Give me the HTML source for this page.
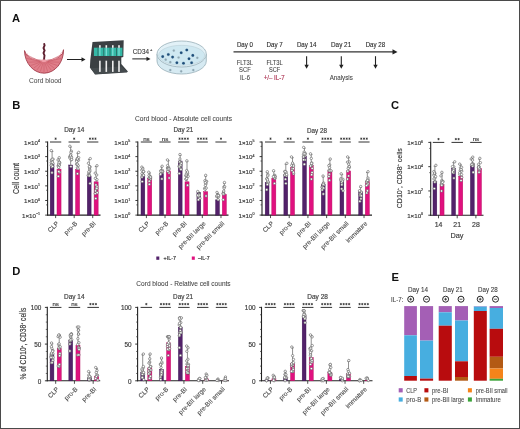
<!DOCTYPE html>
<html><head><meta charset="utf-8"><style>
html,body{margin:0;padding:0;background:#fff;}
svg{display:block;filter:blur(0.3px);font-family:"Liberation Sans", sans-serif;}
</style></head><body>
<svg width="520" height="429" viewBox="0 0 520 429">
<rect width="520" height="429" fill="#fff"/>
<rect x="0.5" y="0.5" width="519" height="428" fill="none" stroke="#4a4a4a" stroke-width="1"/>
<text x="12" y="22.3" font-size="11.2" fill="#111" font-weight="bold">A</text>
<text x="12.3" y="109.0" font-size="11.2" fill="#111" font-weight="bold">B</text>
<text x="391.0" y="109.4" font-size="11.2" fill="#111" font-weight="bold">C</text>
<text x="12.3" y="274.5" font-size="11.2" fill="#111" font-weight="bold">D</text>
<text x="391.6" y="280.8" font-size="11.2" fill="#111" font-weight="bold">E</text>
<path d="M24.5,50.6 A19.5,23 0 0 0 63.5,49.7 A19.5,10.5 0 0 1 24.5,50.6 Z" fill="#df7f8a" stroke="#a23a4a" stroke-width="0.9"/>
<path d="M26.5,53 A17.6,8.8 0 0 0 61.5,52.3" fill="none" stroke="#f2b0b8" stroke-width="0.9"/>
<line x1="40.0" y1="61.2" x2="25.7" y2="54.3" stroke="#c4505f" stroke-width="0.45"/>
<line x1="40.3" y1="61.5" x2="26.7" y2="58.4" stroke="#c4505f" stroke-width="0.45"/>
<line x1="40.6" y1="61.8" x2="28.3" y2="62.2" stroke="#c4505f" stroke-width="0.45"/>
<line x1="41.1" y1="62.0" x2="30.6" y2="65.5" stroke="#c4505f" stroke-width="0.45"/>
<line x1="41.7" y1="62.2" x2="33.5" y2="68.3" stroke="#c4505f" stroke-width="0.45"/>
<line x1="42.4" y1="62.4" x2="36.7" y2="70.3" stroke="#c4505f" stroke-width="0.45"/>
<line x1="43.2" y1="62.5" x2="40.3" y2="71.6" stroke="#c4505f" stroke-width="0.45"/>
<line x1="44.0" y1="62.5" x2="44.0" y2="72.0" stroke="#c4505f" stroke-width="0.45"/>
<line x1="44.8" y1="62.5" x2="47.7" y2="71.6" stroke="#c4505f" stroke-width="0.45"/>
<line x1="45.6" y1="62.4" x2="51.3" y2="70.3" stroke="#c4505f" stroke-width="0.45"/>
<line x1="46.3" y1="62.2" x2="54.5" y2="68.3" stroke="#c4505f" stroke-width="0.45"/>
<line x1="46.9" y1="62.0" x2="57.4" y2="65.5" stroke="#c4505f" stroke-width="0.45"/>
<line x1="47.4" y1="61.8" x2="59.7" y2="62.2" stroke="#c4505f" stroke-width="0.45"/>
<line x1="47.7" y1="61.5" x2="61.3" y2="58.4" stroke="#c4505f" stroke-width="0.45"/>
<line x1="48.0" y1="61.2" x2="62.3" y2="54.3" stroke="#c4505f" stroke-width="0.45"/>
<ellipse cx="44" cy="60.5" rx="2.4" ry="1.6" fill="#f0a0ab"/>
<path d="M44,43.2 L44.6,45.5 L43.5,48 L44.6,50.5 L43.5,53 L44.5,55.5 L44,59.5" fill="none" stroke="#5e2030" stroke-width="1.9"/>
<text x="45.3" y="82.8" font-size="7.2" fill="#505050" stroke="#505050" stroke-width="0.05" text-anchor="middle" textLength="32.5" lengthAdjust="spacingAndGlyphs">Cord blood</text>
<line x1="67" y1="59.5" x2="82.5" y2="59.5" stroke="#222" stroke-width="1"/>
<path d="M85.5,59.5 L81.5,57.3 L81.5,61.7 Z" fill="#222"/>
<polygon points="92.5,42 123.7,40.2 123.3,57 121.3,57.6 121.3,64 127.9,71.6 126.8,72.6 95,74.6 89.9,67.6 90.3,60" fill="#3b4043"/><polygon points="90.5,68.2 121.5,66.5 127.5,71.8 95.5,74.2" fill="#454b4e"/>
<rect x="93.90" y="47.70" width="28.50" height="8.30" fill="#35b8a6"/>
<rect x="97.50" y="47.70" width="0.90" height="8.30" fill="#2a6e68"/>
<rect x="103.30" y="47.70" width="0.90" height="8.30" fill="#2a6e68"/>
<rect x="109.60" y="47.70" width="0.90" height="8.30" fill="#2a6e68"/>
<rect x="116.00" y="47.70" width="0.90" height="8.30" fill="#2a6e68"/>
<rect x="99.10" y="45.20" width="1.60" height="2.60" fill="#f4f4f4"/>
<rect x="99.10" y="60.70" width="1.60" height="11.20" fill="#eeeeee"/>
<rect x="99.30" y="48.00" width="1.20" height="7.80" fill="#7fe0d8"/>
<rect x="105.50" y="45.20" width="1.60" height="2.60" fill="#f4f4f4"/>
<rect x="105.50" y="60.70" width="1.60" height="11.20" fill="#eeeeee"/>
<rect x="105.70" y="48.00" width="1.20" height="7.80" fill="#7fe0d8"/>
<rect x="112.00" y="45.20" width="1.60" height="2.60" fill="#f4f4f4"/>
<rect x="112.00" y="60.70" width="1.60" height="11.20" fill="#eeeeee"/>
<rect x="112.20" y="48.00" width="1.20" height="7.80" fill="#7fe0d8"/>
<rect x="118.20" y="45.20" width="1.60" height="2.60" fill="#f4f4f4"/>
<rect x="118.20" y="60.70" width="1.60" height="11.20" fill="#eeeeee"/>
<rect x="118.40" y="48.00" width="1.20" height="7.80" fill="#7fe0d8"/>
<text x="132.8" y="54.2" font-size="7.0" fill="#333" stroke="#333" stroke-width="0.1" textLength="16.2" lengthAdjust="spacingAndGlyphs">CD34</text>
<text x="150.0" y="50.6" font-size="4" fill="#404040" stroke="#404040" stroke-width="0.18">+</text>
<line x1="132.3" y1="58.9" x2="147.5" y2="58.9" stroke="#222" stroke-width="1"/>
<path d="M150.5,58.9 L146.5,56.699999999999996 L146.5,61.1 Z" fill="#222"/>
<path d="M157,54 L157,61 A24.65,13 0 0 0 206.3,61 L206.3,54" fill="#d6eaf2" stroke="#98aeb8" stroke-width="0.8"/>
<ellipse cx="181.65" cy="54" rx="24.65" ry="13" fill="#e2f1f7" stroke="#98aeb8" stroke-width="0.8"/>
<ellipse cx="181.65" cy="55.3" rx="23" ry="10" fill="#cfe8f1" stroke="#b4c8d0" stroke-width="0.5"/>
<circle cx="162.70" cy="56.60" r="1.3" fill="#1f4f7a" stroke="#1f4f7a" stroke-width="0.2"/>
<circle cx="168.30" cy="54.50" r="1.3" fill="#1f4f7a" stroke="#1f4f7a" stroke-width="0.2"/>
<circle cx="172.60" cy="57.10" r="1.3" fill="#1f4f7a" stroke="#1f4f7a" stroke-width="0.2"/>
<circle cx="181.20" cy="52.80" r="1.3" fill="#1f4f7a" stroke="#1f4f7a" stroke-width="0.2"/>
<circle cx="186.80" cy="50.00" r="1.3" fill="#1f4f7a" stroke="#1f4f7a" stroke-width="0.2"/>
<circle cx="192.80" cy="55.40" r="1.3" fill="#1f4f7a" stroke="#1f4f7a" stroke-width="0.2"/>
<circle cx="189.00" cy="58.70" r="1.3" fill="#1f4f7a" stroke="#1f4f7a" stroke-width="0.2"/>
<circle cx="176.90" cy="62.70" r="1.3" fill="#1f4f7a" stroke="#1f4f7a" stroke-width="0.2"/>
<circle cx="183.50" cy="63.20" r="1.3" fill="#1f4f7a" stroke="#1f4f7a" stroke-width="0.2"/>
<circle cx="191.60" cy="62.70" r="1.3" fill="#1f4f7a" stroke="#1f4f7a" stroke-width="0.2"/>
<circle cx="165.70" cy="59.70" r="1.1" fill="#8fa6b2" stroke="#8fa6b2" stroke-width="0.2"/>
<circle cx="170.30" cy="62.20" r="1.1" fill="#8fa6b2" stroke="#8fa6b2" stroke-width="0.2"/>
<circle cx="178.60" cy="57.50" r="1.1" fill="#8fa6b2" stroke="#8fa6b2" stroke-width="0.2"/>
<circle cx="197.30" cy="57.80" r="1.1" fill="#8fa6b2" stroke="#8fa6b2" stroke-width="0.2"/>
<circle cx="173.80" cy="50.60" r="1.1" fill="#8fa6b2" stroke="#8fa6b2" stroke-width="0.2"/>
<circle cx="170.30" cy="70.10" r="1.1" fill="#8fa6b2" stroke="#8fa6b2" stroke-width="0.2"/>
<circle cx="181.20" cy="71.30" r="1.1" fill="#8fa6b2" stroke="#8fa6b2" stroke-width="0.2"/>
<circle cx="193.30" cy="70.10" r="1.1" fill="#8fa6b2" stroke="#8fa6b2" stroke-width="0.2"/>
<text x="236.9" y="47.3" font-size="7.3" fill="#262626" stroke="#262626" stroke-width="0.1" textLength="16.1" lengthAdjust="spacingAndGlyphs">Day 0</text>
<text x="266.5" y="47.3" font-size="7.3" fill="#262626" stroke="#262626" stroke-width="0.1" textLength="16.3" lengthAdjust="spacingAndGlyphs">Day 7</text>
<text x="296.9" y="47.3" font-size="7.3" fill="#262626" stroke="#262626" stroke-width="0.1" textLength="19.6" lengthAdjust="spacingAndGlyphs">Day 14</text>
<text x="331" y="47.3" font-size="7.3" fill="#262626" stroke="#262626" stroke-width="0.1" textLength="20.2" lengthAdjust="spacingAndGlyphs">Day 21</text>
<text x="365.7" y="47.3" font-size="7.3" fill="#262626" stroke="#262626" stroke-width="0.1" textLength="19.4" lengthAdjust="spacingAndGlyphs">Day 28</text>
<line x1="233.5" y1="51.9" x2="394" y2="51.9" stroke="#333" stroke-width="1.3"/>
<path d="M397.5,51.9 L392.5,49.2 L392.5,54.6 Z" fill="#222"/>
<text x="244.9" y="65.0" font-size="7.0" fill="#444" stroke="#444" stroke-width="0.08" text-anchor="middle" textLength="16.4" lengthAdjust="spacingAndGlyphs">FLT3L</text>
<text x="244.9" y="72.0" font-size="7.0" fill="#444" stroke="#444" stroke-width="0.08" text-anchor="middle" textLength="11.6" lengthAdjust="spacingAndGlyphs">SCF</text>
<text x="244.9" y="79.9" font-size="7.0" fill="#444" stroke="#444" stroke-width="0.08" text-anchor="middle" textLength="10.0" lengthAdjust="spacingAndGlyphs">IL-6</text>
<text x="274.6" y="65.0" font-size="7.0" fill="#444" stroke="#444" stroke-width="0.08" text-anchor="middle" textLength="16.3" lengthAdjust="spacingAndGlyphs">FLT3L</text>
<text x="274.6" y="72.0" font-size="7.0" fill="#444" stroke="#444" stroke-width="0.08" text-anchor="middle" textLength="11.2" lengthAdjust="spacingAndGlyphs">SCF</text>
<text x="274.2" y="79.9" font-size="7.0" fill="#b03a58" stroke="#b03a58" stroke-width="0.18" text-anchor="middle" textLength="20.8" lengthAdjust="spacingAndGlyphs">+/– IL-7</text>
<line x1="306.6" y1="56.2" x2="306.6" y2="65.5" stroke="#222" stroke-width="1.1"/>
<path d="M306.6,68.8 L304.40000000000003,64.8 L308.8,64.8 Z" fill="#222"/>
<line x1="341.3" y1="56.2" x2="341.3" y2="65.5" stroke="#222" stroke-width="1.1"/>
<path d="M341.3,68.8 L339.1,64.8 L343.5,64.8 Z" fill="#222"/>
<line x1="375.5" y1="56.2" x2="375.5" y2="65.5" stroke="#222" stroke-width="1.1"/>
<path d="M375.5,68.8 L373.3,64.8 L377.7,64.8 Z" fill="#222"/>
<text x="341.2" y="80" font-size="7.0" fill="#444" stroke="#444" stroke-width="0.08" text-anchor="middle" textLength="23.1" lengthAdjust="spacingAndGlyphs">Analysis</text>
<text x="183.5" y="120.6" font-size="7.0" fill="#444" stroke="#444" stroke-width="0.06" text-anchor="middle" textLength="97" lengthAdjust="spacingAndGlyphs">Cord blood - Absolute cell counts</text>
<text x="74.3" y="132.2" font-size="6.6" fill="#404040" stroke="#404040" stroke-width="0.18" text-anchor="middle" textLength="20.2" lengthAdjust="spacingAndGlyphs">Day 14</text>
<text x="183.4" y="132.2" font-size="6.6" fill="#404040" stroke="#404040" stroke-width="0.18" text-anchor="middle" textLength="19.8" lengthAdjust="spacingAndGlyphs">Day 21</text>
<text x="317.0" y="132.8" font-size="6.6" fill="#404040" stroke="#404040" stroke-width="0.18" text-anchor="middle" textLength="19.9" lengthAdjust="spacingAndGlyphs">Day 28</text>
<text x="19.0" y="178.5" font-size="8.8" fill="#404040" stroke="#404040" stroke-width="0.18" text-anchor="middle" textLength="31" lengthAdjust="spacingAndGlyphs" transform="rotate(-90 19.0 178.5)">Cell count</text>
<line x1="47.6" y1="141.4" x2="47.6" y2="215.6" stroke="#222" stroke-width="1.1"/>
<line x1="47.1" y1="215.1" x2="100.5" y2="215.1" stroke="#222" stroke-width="1.1"/>
<line x1="45.2" y1="142.0" x2="47.6" y2="142.0" stroke="#222" stroke-width="0.9"/>
<text x="40.0" y="144.8" font-size="6.2" fill="#404040" stroke="#404040" stroke-width="0.18" text-anchor="end">1×10<tspan font-size="3.6" dy="-2.6">4</tspan></text>
<line x1="45.2" y1="156.62" x2="47.6" y2="156.62" stroke="#222" stroke-width="0.9"/>
<text x="40.0" y="159.42000000000002" font-size="6.2" fill="#404040" stroke="#404040" stroke-width="0.18" text-anchor="end">1×10<tspan font-size="3.6" dy="-2.6">3</tspan></text>
<line x1="45.2" y1="171.24" x2="47.6" y2="171.24" stroke="#222" stroke-width="0.9"/>
<text x="40.0" y="174.04000000000002" font-size="6.2" fill="#404040" stroke="#404040" stroke-width="0.18" text-anchor="end">1×10<tspan font-size="3.6" dy="-2.6">2</tspan></text>
<line x1="45.2" y1="185.86" x2="47.6" y2="185.86" stroke="#222" stroke-width="0.9"/>
<text x="40.0" y="188.66000000000003" font-size="6.2" fill="#404040" stroke="#404040" stroke-width="0.18" text-anchor="end">1×10<tspan font-size="3.6" dy="-2.6">1</tspan></text>
<line x1="45.2" y1="200.48" x2="47.6" y2="200.48" stroke="#222" stroke-width="0.9"/>
<text x="40.0" y="203.28" font-size="6.2" fill="#404040" stroke="#404040" stroke-width="0.18" text-anchor="end">1×10<tspan font-size="3.6" dy="-2.6">0</tspan></text>
<line x1="45.2" y1="215.1" x2="47.6" y2="215.1" stroke="#222" stroke-width="0.9"/>
<text x="40.0" y="217.9" font-size="6.2" fill="#404040" stroke="#404040" stroke-width="0.18" text-anchor="end">1×10<tspan font-size="3.6" dy="-2.6">−1</tspan></text>
<line x1="46.1" y1="146.4" x2="47.6" y2="146.4" stroke="#333" stroke-width="0.7"/>
<line x1="46.1" y1="161.02" x2="47.6" y2="161.02" stroke="#333" stroke-width="0.7"/>
<line x1="46.1" y1="175.64000000000001" x2="47.6" y2="175.64000000000001" stroke="#333" stroke-width="0.7"/>
<line x1="46.1" y1="190.26000000000002" x2="47.6" y2="190.26000000000002" stroke="#333" stroke-width="0.7"/>
<line x1="46.1" y1="204.88" x2="47.6" y2="204.88" stroke="#333" stroke-width="0.7"/>
<rect x="50.20" y="164.00" width="3.80" height="51.10" fill="#53226a" stroke="#3c1250" stroke-width="0.45"/>
<rect x="57.00" y="169.10" width="4.05" height="46.00" fill="#e0117f" stroke="#b80c60" stroke-width="0.45"/>
<line x1="52.1" y1="163.8" x2="52.1" y2="151.4" stroke="#444" stroke-width="0.6"/>
<line x1="50.800000000000004" y1="151.4" x2="53.4" y2="151.4" stroke="#444" stroke-width="0.6"/>
<circle cx="51.29" cy="150.60" r="1.2" fill="#fff" stroke="#5a5a5a" stroke-width="0.6"/>
<circle cx="52.00" cy="172.80" r="1.2" fill="#fff" stroke="#5a5a5a" stroke-width="0.6"/>
<circle cx="51.95" cy="166.94" r="1.2" fill="#fff" stroke="#5a5a5a" stroke-width="0.6"/>
<circle cx="52.00" cy="161.06" r="1.2" fill="#fff" stroke="#5a5a5a" stroke-width="0.6"/>
<circle cx="51.72" cy="164.87" r="1.2" fill="#fff" stroke="#5a5a5a" stroke-width="0.6"/>
<circle cx="51.36" cy="160.08" r="1.2" fill="#fff" stroke="#5a5a5a" stroke-width="0.6"/>
<circle cx="53.17" cy="159.20" r="1.2" fill="#fff" stroke="#5a5a5a" stroke-width="0.6"/>
<circle cx="53.02" cy="163.35" r="1.2" fill="#fff" stroke="#5a5a5a" stroke-width="0.6"/>
<circle cx="51.24" cy="162.64" r="1.2" fill="#fff" stroke="#5a5a5a" stroke-width="0.6"/>
<circle cx="52.25" cy="159.29" r="1.2" fill="#fff" stroke="#5a5a5a" stroke-width="0.6"/>
<circle cx="51.50" cy="165.01" r="1.2" fill="#fff" stroke="#5a5a5a" stroke-width="0.6"/>
<circle cx="51.24" cy="165.31" r="1.2" fill="#fff" stroke="#5a5a5a" stroke-width="0.6"/>
<circle cx="52.60" cy="166.37" r="1.2" fill="#fff" stroke="#5a5a5a" stroke-width="0.6"/>
<circle cx="52.31" cy="162.23" r="1.2" fill="#fff" stroke="#5a5a5a" stroke-width="0.6"/>
<line x1="59.025" y1="168.9" x2="59.025" y2="158.5" stroke="#444" stroke-width="0.6"/>
<line x1="57.725" y1="158.5" x2="60.324999999999996" y2="158.5" stroke="#444" stroke-width="0.6"/>
<circle cx="59.21" cy="157.70" r="1.2" fill="#fff" stroke="#5a5a5a" stroke-width="0.6"/>
<circle cx="58.32" cy="176.30" r="1.2" fill="#fff" stroke="#5a5a5a" stroke-width="0.6"/>
<circle cx="59.40" cy="172.31" r="1.2" fill="#fff" stroke="#5a5a5a" stroke-width="0.6"/>
<circle cx="59.47" cy="162.19" r="1.2" fill="#fff" stroke="#5a5a5a" stroke-width="0.6"/>
<circle cx="58.32" cy="165.47" r="1.2" fill="#fff" stroke="#5a5a5a" stroke-width="0.6"/>
<circle cx="58.96" cy="165.30" r="1.2" fill="#fff" stroke="#5a5a5a" stroke-width="0.6"/>
<circle cx="58.35" cy="166.18" r="1.2" fill="#fff" stroke="#5a5a5a" stroke-width="0.6"/>
<circle cx="59.77" cy="162.94" r="1.2" fill="#fff" stroke="#5a5a5a" stroke-width="0.6"/>
<circle cx="58.78" cy="171.51" r="1.2" fill="#fff" stroke="#5a5a5a" stroke-width="0.6"/>
<circle cx="59.41" cy="165.18" r="1.2" fill="#fff" stroke="#5a5a5a" stroke-width="0.6"/>
<circle cx="58.67" cy="163.94" r="1.2" fill="#fff" stroke="#5a5a5a" stroke-width="0.6"/>
<circle cx="59.17" cy="162.26" r="1.2" fill="#fff" stroke="#5a5a5a" stroke-width="0.6"/>
<circle cx="58.03" cy="159.99" r="1.2" fill="#fff" stroke="#5a5a5a" stroke-width="0.6"/>
<circle cx="58.71" cy="167.40" r="1.2" fill="#fff" stroke="#5a5a5a" stroke-width="0.6"/>
<line x1="55.625" y1="215.1" x2="55.625" y2="218.1" stroke="#222" stroke-width="0.8"/>
<text x="59.33" y="223.9" font-size="6.5" fill="#474747" stroke="#474747" stroke-width="0.1" text-anchor="end" transform="rotate(-45 59.33 223.9)">CLP</text>
<line x1="50.0" y1="142" x2="61.25" y2="142" stroke="#333" stroke-width="1.0"/>
<path d="M55.62,137.55V139.85M54.62,138.12L56.63,139.27M54.62,139.27L56.63,138.12" stroke="#222" stroke-width="0.62" fill="none"/>
<rect x="68.75" y="165.00" width="3.80" height="50.10" fill="#53226a" stroke="#3c1250" stroke-width="0.45"/>
<rect x="75.55" y="169.60" width="4.05" height="45.50" fill="#e0117f" stroke="#b80c60" stroke-width="0.45"/>
<line x1="70.64999999999999" y1="164.8" x2="70.64999999999999" y2="147.0" stroke="#444" stroke-width="0.6"/>
<line x1="69.35" y1="147.0" x2="71.94999999999999" y2="147.0" stroke="#444" stroke-width="0.6"/>
<circle cx="69.84" cy="146.20" r="1.2" fill="#fff" stroke="#5a5a5a" stroke-width="0.6"/>
<circle cx="70.92" cy="166.60" r="1.2" fill="#fff" stroke="#5a5a5a" stroke-width="0.6"/>
<circle cx="70.38" cy="156.33" r="1.2" fill="#fff" stroke="#5a5a5a" stroke-width="0.6"/>
<circle cx="70.72" cy="154.54" r="1.2" fill="#fff" stroke="#5a5a5a" stroke-width="0.6"/>
<circle cx="71.19" cy="159.93" r="1.2" fill="#fff" stroke="#5a5a5a" stroke-width="0.6"/>
<circle cx="71.36" cy="151.18" r="1.2" fill="#fff" stroke="#5a5a5a" stroke-width="0.6"/>
<circle cx="70.65" cy="158.04" r="1.2" fill="#fff" stroke="#5a5a5a" stroke-width="0.6"/>
<circle cx="70.93" cy="152.30" r="1.2" fill="#fff" stroke="#5a5a5a" stroke-width="0.6"/>
<circle cx="69.71" cy="156.72" r="1.2" fill="#fff" stroke="#5a5a5a" stroke-width="0.6"/>
<circle cx="71.22" cy="156.61" r="1.2" fill="#fff" stroke="#5a5a5a" stroke-width="0.6"/>
<circle cx="69.88" cy="158.01" r="1.2" fill="#fff" stroke="#5a5a5a" stroke-width="0.6"/>
<circle cx="70.50" cy="155.91" r="1.2" fill="#fff" stroke="#5a5a5a" stroke-width="0.6"/>
<circle cx="71.54" cy="157.54" r="1.2" fill="#fff" stroke="#5a5a5a" stroke-width="0.6"/>
<circle cx="71.68" cy="159.35" r="1.2" fill="#fff" stroke="#5a5a5a" stroke-width="0.6"/>
<line x1="77.57499999999999" y1="169.4" x2="77.57499999999999" y2="153.20000000000002" stroke="#444" stroke-width="0.6"/>
<line x1="76.27499999999999" y1="153.20000000000002" x2="78.87499999999999" y2="153.20000000000002" stroke="#444" stroke-width="0.6"/>
<circle cx="78.68" cy="152.40" r="1.2" fill="#fff" stroke="#5a5a5a" stroke-width="0.6"/>
<circle cx="77.47" cy="173.70" r="1.2" fill="#fff" stroke="#5a5a5a" stroke-width="0.6"/>
<circle cx="76.60" cy="164.25" r="1.2" fill="#fff" stroke="#5a5a5a" stroke-width="0.6"/>
<circle cx="78.47" cy="160.26" r="1.2" fill="#fff" stroke="#5a5a5a" stroke-width="0.6"/>
<circle cx="76.94" cy="160.02" r="1.2" fill="#fff" stroke="#5a5a5a" stroke-width="0.6"/>
<circle cx="76.67" cy="160.05" r="1.2" fill="#fff" stroke="#5a5a5a" stroke-width="0.6"/>
<circle cx="77.37" cy="158.32" r="1.2" fill="#fff" stroke="#5a5a5a" stroke-width="0.6"/>
<circle cx="78.23" cy="165.69" r="1.2" fill="#fff" stroke="#5a5a5a" stroke-width="0.6"/>
<circle cx="77.27" cy="164.10" r="1.2" fill="#fff" stroke="#5a5a5a" stroke-width="0.6"/>
<circle cx="77.52" cy="167.63" r="1.2" fill="#fff" stroke="#5a5a5a" stroke-width="0.6"/>
<circle cx="78.69" cy="157.71" r="1.2" fill="#fff" stroke="#5a5a5a" stroke-width="0.6"/>
<circle cx="78.05" cy="168.80" r="1.2" fill="#fff" stroke="#5a5a5a" stroke-width="0.6"/>
<circle cx="77.39" cy="158.96" r="1.2" fill="#fff" stroke="#5a5a5a" stroke-width="0.6"/>
<circle cx="76.65" cy="161.43" r="1.2" fill="#fff" stroke="#5a5a5a" stroke-width="0.6"/>
<line x1="74.175" y1="215.1" x2="74.175" y2="218.1" stroke="#222" stroke-width="0.8"/>
<text x="77.88" y="223.9" font-size="6.5" fill="#474747" stroke="#474747" stroke-width="0.1" text-anchor="end" transform="rotate(-45 77.88 223.9)">pro-B</text>
<line x1="68.55" y1="142" x2="79.8" y2="142" stroke="#333" stroke-width="1.0"/>
<path d="M74.17,137.55V139.85M73.17,138.12L75.18,139.27M73.17,139.27L75.18,138.12" stroke="#222" stroke-width="0.62" fill="none"/>
<rect x="87.30" y="176.20" width="3.80" height="38.90" fill="#53226a" stroke="#3c1250" stroke-width="0.45"/>
<rect x="94.10" y="181.80" width="4.05" height="33.30" fill="#e0117f" stroke="#b80c60" stroke-width="0.45"/>
<line x1="89.19999999999999" y1="176" x2="89.19999999999999" y2="159.4" stroke="#444" stroke-width="0.6"/>
<line x1="87.89999999999999" y1="159.4" x2="90.49999999999999" y2="159.4" stroke="#444" stroke-width="0.6"/>
<circle cx="90.26" cy="158.60" r="1.2" fill="#fff" stroke="#5a5a5a" stroke-width="0.6"/>
<circle cx="90.06" cy="183.40" r="1.2" fill="#fff" stroke="#5a5a5a" stroke-width="0.6"/>
<circle cx="89.69" cy="169.27" r="1.2" fill="#fff" stroke="#5a5a5a" stroke-width="0.6"/>
<circle cx="90.11" cy="166.79" r="1.2" fill="#fff" stroke="#5a5a5a" stroke-width="0.6"/>
<circle cx="89.53" cy="167.72" r="1.2" fill="#fff" stroke="#5a5a5a" stroke-width="0.6"/>
<circle cx="88.79" cy="173.77" r="1.2" fill="#fff" stroke="#5a5a5a" stroke-width="0.6"/>
<circle cx="89.12" cy="172.32" r="1.2" fill="#fff" stroke="#5a5a5a" stroke-width="0.6"/>
<circle cx="89.36" cy="166.65" r="1.2" fill="#fff" stroke="#5a5a5a" stroke-width="0.6"/>
<circle cx="89.95" cy="171.00" r="1.2" fill="#fff" stroke="#5a5a5a" stroke-width="0.6"/>
<circle cx="88.85" cy="171.75" r="1.2" fill="#fff" stroke="#5a5a5a" stroke-width="0.6"/>
<circle cx="88.14" cy="175.40" r="1.2" fill="#fff" stroke="#5a5a5a" stroke-width="0.6"/>
<circle cx="89.51" cy="175.30" r="1.2" fill="#fff" stroke="#5a5a5a" stroke-width="0.6"/>
<circle cx="89.25" cy="175.87" r="1.2" fill="#fff" stroke="#5a5a5a" stroke-width="0.6"/>
<circle cx="88.42" cy="163.26" r="1.2" fill="#fff" stroke="#5a5a5a" stroke-width="0.6"/>
<line x1="96.12499999999999" y1="181.6" x2="96.12499999999999" y2="166.5" stroke="#444" stroke-width="0.6"/>
<line x1="94.82499999999999" y1="166.5" x2="97.42499999999998" y2="166.5" stroke="#444" stroke-width="0.6"/>
<circle cx="96.99" cy="165.70" r="1.2" fill="#fff" stroke="#5a5a5a" stroke-width="0.6"/>
<circle cx="95.78" cy="198.50" r="1.2" fill="#fff" stroke="#5a5a5a" stroke-width="0.6"/>
<circle cx="96.74" cy="188.16" r="1.2" fill="#fff" stroke="#5a5a5a" stroke-width="0.6"/>
<circle cx="96.70" cy="174.96" r="1.2" fill="#fff" stroke="#5a5a5a" stroke-width="0.6"/>
<circle cx="95.36" cy="178.36" r="1.2" fill="#fff" stroke="#5a5a5a" stroke-width="0.6"/>
<circle cx="97.00" cy="179.66" r="1.2" fill="#fff" stroke="#5a5a5a" stroke-width="0.6"/>
<circle cx="96.38" cy="189.05" r="1.2" fill="#fff" stroke="#5a5a5a" stroke-width="0.6"/>
<circle cx="95.55" cy="190.87" r="1.2" fill="#fff" stroke="#5a5a5a" stroke-width="0.6"/>
<circle cx="95.24" cy="193.62" r="1.2" fill="#fff" stroke="#5a5a5a" stroke-width="0.6"/>
<circle cx="97.22" cy="192.69" r="1.2" fill="#fff" stroke="#5a5a5a" stroke-width="0.6"/>
<circle cx="96.20" cy="188.71" r="1.2" fill="#fff" stroke="#5a5a5a" stroke-width="0.6"/>
<circle cx="96.88" cy="186.38" r="1.2" fill="#fff" stroke="#5a5a5a" stroke-width="0.6"/>
<circle cx="96.80" cy="188.32" r="1.2" fill="#fff" stroke="#5a5a5a" stroke-width="0.6"/>
<circle cx="95.94" cy="184.88" r="1.2" fill="#fff" stroke="#5a5a5a" stroke-width="0.6"/>
<circle cx="95.23" cy="173.14" r="1.2" fill="#fff" stroke="#5a5a5a" stroke-width="0.6"/>
<line x1="92.725" y1="215.1" x2="92.725" y2="218.1" stroke="#222" stroke-width="0.8"/>
<text x="96.42" y="223.9" font-size="6.5" fill="#474747" stroke="#474747" stroke-width="0.1" text-anchor="end" transform="rotate(-45 96.42 223.9)">pre-BI</text>
<line x1="87.1" y1="142" x2="98.35" y2="142" stroke="#333" stroke-width="1.0"/>
<path d="M89.97,137.55V139.85M88.97,138.12L90.98,139.27M88.97,139.27L90.98,138.12" stroke="#222" stroke-width="0.62" fill="none"/>
<path d="M92.72,137.55V139.85M91.72,138.12L93.73,139.27M91.72,139.27L93.73,138.12" stroke="#222" stroke-width="0.62" fill="none"/>
<path d="M95.47,137.55V139.85M94.47,138.12L96.48,139.27M94.47,139.27L96.48,138.12" stroke="#222" stroke-width="0.62" fill="none"/>
<line x1="137.8" y1="141.4" x2="137.8" y2="215.6" stroke="#222" stroke-width="1.1"/>
<line x1="137.3" y1="215.1" x2="228.5" y2="215.1" stroke="#222" stroke-width="1.1"/>
<line x1="135.4" y1="142.0" x2="137.8" y2="142.0" stroke="#222" stroke-width="0.9"/>
<text x="130.20000000000002" y="144.8" font-size="6.2" fill="#404040" stroke="#404040" stroke-width="0.18" text-anchor="end">1×10<tspan font-size="3.6" dy="-2.6">5</tspan></text>
<line x1="135.4" y1="156.62" x2="137.8" y2="156.62" stroke="#222" stroke-width="0.9"/>
<text x="130.20000000000002" y="159.42000000000002" font-size="6.2" fill="#404040" stroke="#404040" stroke-width="0.18" text-anchor="end">1×10<tspan font-size="3.6" dy="-2.6">4</tspan></text>
<line x1="135.4" y1="171.24" x2="137.8" y2="171.24" stroke="#222" stroke-width="0.9"/>
<text x="130.20000000000002" y="174.04000000000002" font-size="6.2" fill="#404040" stroke="#404040" stroke-width="0.18" text-anchor="end">1×10<tspan font-size="3.6" dy="-2.6">3</tspan></text>
<line x1="135.4" y1="185.86" x2="137.8" y2="185.86" stroke="#222" stroke-width="0.9"/>
<text x="130.20000000000002" y="188.66000000000003" font-size="6.2" fill="#404040" stroke="#404040" stroke-width="0.18" text-anchor="end">1×10<tspan font-size="3.6" dy="-2.6">2</tspan></text>
<line x1="135.4" y1="200.48" x2="137.8" y2="200.48" stroke="#222" stroke-width="0.9"/>
<text x="130.20000000000002" y="203.28" font-size="6.2" fill="#404040" stroke="#404040" stroke-width="0.18" text-anchor="end">1×10<tspan font-size="3.6" dy="-2.6">1</tspan></text>
<line x1="135.4" y1="215.1" x2="137.8" y2="215.1" stroke="#222" stroke-width="0.9"/>
<text x="130.20000000000002" y="217.9" font-size="6.2" fill="#404040" stroke="#404040" stroke-width="0.18" text-anchor="end">1×10<tspan font-size="3.6" dy="-2.6">0</tspan></text>
<line x1="136.3" y1="146.4" x2="137.8" y2="146.4" stroke="#333" stroke-width="0.7"/>
<line x1="136.3" y1="161.02" x2="137.8" y2="161.02" stroke="#333" stroke-width="0.7"/>
<line x1="136.3" y1="175.64000000000001" x2="137.8" y2="175.64000000000001" stroke="#333" stroke-width="0.7"/>
<line x1="136.3" y1="190.26000000000002" x2="137.8" y2="190.26000000000002" stroke="#333" stroke-width="0.7"/>
<line x1="136.3" y1="204.88" x2="137.8" y2="204.88" stroke="#333" stroke-width="0.7"/>
<rect x="141.00" y="176.40" width="3.80" height="38.70" fill="#53226a" stroke="#3c1250" stroke-width="0.45"/>
<rect x="147.70" y="178.20" width="4.05" height="36.90" fill="#e0117f" stroke="#b80c60" stroke-width="0.45"/>
<line x1="142.9" y1="176.2" x2="142.9" y2="167.9" stroke="#444" stroke-width="0.6"/>
<line x1="141.6" y1="167.9" x2="144.20000000000002" y2="167.9" stroke="#444" stroke-width="0.6"/>
<circle cx="141.85" cy="167.10" r="1.2" fill="#fff" stroke="#5a5a5a" stroke-width="0.6"/>
<circle cx="142.22" cy="181.60" r="1.2" fill="#fff" stroke="#5a5a5a" stroke-width="0.6"/>
<circle cx="142.36" cy="175.37" r="1.2" fill="#fff" stroke="#5a5a5a" stroke-width="0.6"/>
<circle cx="141.79" cy="170.09" r="1.2" fill="#fff" stroke="#5a5a5a" stroke-width="0.6"/>
<circle cx="143.71" cy="171.60" r="1.2" fill="#fff" stroke="#5a5a5a" stroke-width="0.6"/>
<circle cx="141.98" cy="173.63" r="1.2" fill="#fff" stroke="#5a5a5a" stroke-width="0.6"/>
<circle cx="143.23" cy="174.87" r="1.2" fill="#fff" stroke="#5a5a5a" stroke-width="0.6"/>
<circle cx="142.88" cy="168.99" r="1.2" fill="#fff" stroke="#5a5a5a" stroke-width="0.6"/>
<circle cx="142.01" cy="177.08" r="1.2" fill="#fff" stroke="#5a5a5a" stroke-width="0.6"/>
<circle cx="143.58" cy="175.24" r="1.2" fill="#fff" stroke="#5a5a5a" stroke-width="0.6"/>
<circle cx="143.47" cy="171.57" r="1.2" fill="#fff" stroke="#5a5a5a" stroke-width="0.6"/>
<line x1="149.725" y1="178" x2="149.725" y2="173.0" stroke="#444" stroke-width="0.6"/>
<line x1="148.42499999999998" y1="173.0" x2="151.025" y2="173.0" stroke="#444" stroke-width="0.6"/>
<circle cx="148.73" cy="172.20" r="1.2" fill="#fff" stroke="#5a5a5a" stroke-width="0.6"/>
<circle cx="149.32" cy="184.30" r="1.2" fill="#fff" stroke="#5a5a5a" stroke-width="0.6"/>
<circle cx="150.17" cy="176.39" r="1.2" fill="#fff" stroke="#5a5a5a" stroke-width="0.6"/>
<circle cx="150.56" cy="178.95" r="1.2" fill="#fff" stroke="#5a5a5a" stroke-width="0.6"/>
<circle cx="149.67" cy="177.51" r="1.2" fill="#fff" stroke="#5a5a5a" stroke-width="0.6"/>
<circle cx="149.01" cy="178.03" r="1.2" fill="#fff" stroke="#5a5a5a" stroke-width="0.6"/>
<circle cx="148.99" cy="175.45" r="1.2" fill="#fff" stroke="#5a5a5a" stroke-width="0.6"/>
<circle cx="149.90" cy="178.04" r="1.2" fill="#fff" stroke="#5a5a5a" stroke-width="0.6"/>
<circle cx="149.81" cy="176.75" r="1.2" fill="#fff" stroke="#5a5a5a" stroke-width="0.6"/>
<circle cx="149.25" cy="181.17" r="1.2" fill="#fff" stroke="#5a5a5a" stroke-width="0.6"/>
<circle cx="150.63" cy="177.09" r="1.2" fill="#fff" stroke="#5a5a5a" stroke-width="0.6"/>
<line x1="146.375" y1="215.1" x2="146.375" y2="218.1" stroke="#222" stroke-width="0.8"/>
<text x="150.07" y="223.9" font-size="6.5" fill="#474747" stroke="#474747" stroke-width="0.1" text-anchor="end" transform="rotate(-45 150.07 223.9)">CLP</text>
<line x1="140.8" y1="142" x2="151.95" y2="142" stroke="#333" stroke-width="1.0"/>
<text x="146.375" y="140.7" font-size="6.1" fill="#404040" stroke="#404040" stroke-width="0.18" text-anchor="middle">ns</text>
<rect x="159.65" y="173.70" width="3.80" height="41.40" fill="#53226a" stroke="#3c1250" stroke-width="0.45"/>
<rect x="166.35" y="170.90" width="4.05" height="44.20" fill="#e0117f" stroke="#b80c60" stroke-width="0.45"/>
<line x1="161.55" y1="173.5" x2="161.55" y2="167.0" stroke="#444" stroke-width="0.6"/>
<line x1="160.25" y1="167.0" x2="162.85000000000002" y2="167.0" stroke="#444" stroke-width="0.6"/>
<circle cx="162.16" cy="166.20" r="1.2" fill="#fff" stroke="#5a5a5a" stroke-width="0.6"/>
<circle cx="161.88" cy="178.90" r="1.2" fill="#fff" stroke="#5a5a5a" stroke-width="0.6"/>
<circle cx="162.63" cy="171.64" r="1.2" fill="#fff" stroke="#5a5a5a" stroke-width="0.6"/>
<circle cx="161.61" cy="171.77" r="1.2" fill="#fff" stroke="#5a5a5a" stroke-width="0.6"/>
<circle cx="162.37" cy="171.73" r="1.2" fill="#fff" stroke="#5a5a5a" stroke-width="0.6"/>
<circle cx="160.70" cy="173.48" r="1.2" fill="#fff" stroke="#5a5a5a" stroke-width="0.6"/>
<circle cx="160.48" cy="174.19" r="1.2" fill="#fff" stroke="#5a5a5a" stroke-width="0.6"/>
<circle cx="162.38" cy="170.33" r="1.2" fill="#fff" stroke="#5a5a5a" stroke-width="0.6"/>
<circle cx="162.40" cy="171.34" r="1.2" fill="#fff" stroke="#5a5a5a" stroke-width="0.6"/>
<circle cx="160.81" cy="170.73" r="1.2" fill="#fff" stroke="#5a5a5a" stroke-width="0.6"/>
<circle cx="160.91" cy="171.14" r="1.2" fill="#fff" stroke="#5a5a5a" stroke-width="0.6"/>
<line x1="168.375" y1="170.7" x2="168.375" y2="160.70000000000002" stroke="#444" stroke-width="0.6"/>
<line x1="167.075" y1="160.70000000000002" x2="169.675" y2="160.70000000000002" stroke="#444" stroke-width="0.6"/>
<circle cx="167.43" cy="159.90" r="1.2" fill="#fff" stroke="#5a5a5a" stroke-width="0.6"/>
<circle cx="169.16" cy="178.00" r="1.2" fill="#fff" stroke="#5a5a5a" stroke-width="0.6"/>
<circle cx="168.59" cy="169.51" r="1.2" fill="#fff" stroke="#5a5a5a" stroke-width="0.6"/>
<circle cx="169.01" cy="172.95" r="1.2" fill="#fff" stroke="#5a5a5a" stroke-width="0.6"/>
<circle cx="167.50" cy="167.97" r="1.2" fill="#fff" stroke="#5a5a5a" stroke-width="0.6"/>
<circle cx="167.83" cy="171.36" r="1.2" fill="#fff" stroke="#5a5a5a" stroke-width="0.6"/>
<circle cx="167.91" cy="167.95" r="1.2" fill="#fff" stroke="#5a5a5a" stroke-width="0.6"/>
<circle cx="167.64" cy="165.50" r="1.2" fill="#fff" stroke="#5a5a5a" stroke-width="0.6"/>
<circle cx="168.60" cy="167.34" r="1.2" fill="#fff" stroke="#5a5a5a" stroke-width="0.6"/>
<circle cx="168.68" cy="168.45" r="1.2" fill="#fff" stroke="#5a5a5a" stroke-width="0.6"/>
<circle cx="168.00" cy="169.22" r="1.2" fill="#fff" stroke="#5a5a5a" stroke-width="0.6"/>
<circle cx="168.92" cy="168.94" r="1.2" fill="#fff" stroke="#5a5a5a" stroke-width="0.6"/>
<line x1="165.025" y1="215.1" x2="165.025" y2="218.1" stroke="#222" stroke-width="0.8"/>
<text x="168.72" y="223.9" font-size="6.5" fill="#474747" stroke="#474747" stroke-width="0.1" text-anchor="end" transform="rotate(-45 168.72 223.9)">pro-B</text>
<line x1="159.45000000000002" y1="142" x2="170.6" y2="142" stroke="#333" stroke-width="1.0"/>
<text x="165.025" y="140.7" font-size="6.1" fill="#404040" stroke="#404040" stroke-width="0.18" text-anchor="middle">ns</text>
<rect x="178.30" y="161.00" width="3.80" height="54.10" fill="#53226a" stroke="#3c1250" stroke-width="0.45"/>
<rect x="185.00" y="181.80" width="4.05" height="33.30" fill="#e0117f" stroke="#b80c60" stroke-width="0.45"/>
<line x1="180.20000000000002" y1="160.8" x2="180.20000000000002" y2="155.3" stroke="#444" stroke-width="0.6"/>
<line x1="178.9" y1="155.3" x2="181.50000000000003" y2="155.3" stroke="#444" stroke-width="0.6"/>
<circle cx="179.96" cy="154.50" r="1.2" fill="#fff" stroke="#5a5a5a" stroke-width="0.6"/>
<circle cx="179.25" cy="173.50" r="1.2" fill="#fff" stroke="#5a5a5a" stroke-width="0.6"/>
<circle cx="179.81" cy="162.09" r="1.2" fill="#fff" stroke="#5a5a5a" stroke-width="0.6"/>
<circle cx="179.22" cy="166.04" r="1.2" fill="#fff" stroke="#5a5a5a" stroke-width="0.6"/>
<circle cx="181.03" cy="165.43" r="1.2" fill="#fff" stroke="#5a5a5a" stroke-width="0.6"/>
<circle cx="179.73" cy="161.93" r="1.2" fill="#fff" stroke="#5a5a5a" stroke-width="0.6"/>
<circle cx="179.92" cy="159.01" r="1.2" fill="#fff" stroke="#5a5a5a" stroke-width="0.6"/>
<circle cx="179.36" cy="166.95" r="1.2" fill="#fff" stroke="#5a5a5a" stroke-width="0.6"/>
<circle cx="181.22" cy="162.65" r="1.2" fill="#fff" stroke="#5a5a5a" stroke-width="0.6"/>
<circle cx="181.13" cy="163.49" r="1.2" fill="#fff" stroke="#5a5a5a" stroke-width="0.6"/>
<circle cx="179.47" cy="166.67" r="1.2" fill="#fff" stroke="#5a5a5a" stroke-width="0.6"/>
<circle cx="180.84" cy="168.62" r="1.2" fill="#fff" stroke="#5a5a5a" stroke-width="0.6"/>
<circle cx="180.21" cy="165.10" r="1.2" fill="#fff" stroke="#5a5a5a" stroke-width="0.6"/>
<circle cx="180.91" cy="169.50" r="1.2" fill="#fff" stroke="#5a5a5a" stroke-width="0.6"/>
<line x1="187.025" y1="181.6" x2="187.025" y2="161.60000000000002" stroke="#444" stroke-width="0.6"/>
<line x1="185.725" y1="161.60000000000002" x2="188.32500000000002" y2="161.60000000000002" stroke="#444" stroke-width="0.6"/>
<circle cx="186.87" cy="160.80" r="1.2" fill="#fff" stroke="#5a5a5a" stroke-width="0.6"/>
<circle cx="187.54" cy="185.20" r="1.2" fill="#fff" stroke="#5a5a5a" stroke-width="0.6"/>
<circle cx="186.39" cy="175.94" r="1.2" fill="#fff" stroke="#5a5a5a" stroke-width="0.6"/>
<circle cx="187.57" cy="173.75" r="1.2" fill="#fff" stroke="#5a5a5a" stroke-width="0.6"/>
<circle cx="186.34" cy="176.13" r="1.2" fill="#fff" stroke="#5a5a5a" stroke-width="0.6"/>
<circle cx="185.89" cy="179.00" r="1.2" fill="#fff" stroke="#5a5a5a" stroke-width="0.6"/>
<circle cx="186.65" cy="170.57" r="1.2" fill="#fff" stroke="#5a5a5a" stroke-width="0.6"/>
<circle cx="186.58" cy="173.46" r="1.2" fill="#fff" stroke="#5a5a5a" stroke-width="0.6"/>
<circle cx="188.16" cy="176.29" r="1.2" fill="#fff" stroke="#5a5a5a" stroke-width="0.6"/>
<circle cx="187.51" cy="172.03" r="1.2" fill="#fff" stroke="#5a5a5a" stroke-width="0.6"/>
<circle cx="186.09" cy="179.39" r="1.2" fill="#fff" stroke="#5a5a5a" stroke-width="0.6"/>
<circle cx="186.21" cy="175.72" r="1.2" fill="#fff" stroke="#5a5a5a" stroke-width="0.6"/>
<circle cx="186.70" cy="178.52" r="1.2" fill="#fff" stroke="#5a5a5a" stroke-width="0.6"/>
<circle cx="186.12" cy="175.03" r="1.2" fill="#fff" stroke="#5a5a5a" stroke-width="0.6"/>
<line x1="183.675" y1="215.1" x2="183.675" y2="218.1" stroke="#222" stroke-width="0.8"/>
<text x="187.38" y="223.9" font-size="6.5" fill="#474747" stroke="#474747" stroke-width="0.1" text-anchor="end" transform="rotate(-45 187.38 223.9)">pre-BI</text>
<line x1="178.10000000000002" y1="142" x2="189.25" y2="142" stroke="#333" stroke-width="1.0"/>
<path d="M179.55,137.55V139.85M178.55,138.12L180.55,139.27M178.55,139.27L180.55,138.12" stroke="#222" stroke-width="0.62" fill="none"/>
<path d="M182.30,137.55V139.85M181.30,138.12L183.30,139.27M181.30,139.27L183.30,138.12" stroke="#222" stroke-width="0.62" fill="none"/>
<path d="M185.05,137.55V139.85M184.05,138.12L186.05,139.27M184.05,139.27L186.05,138.12" stroke="#222" stroke-width="0.62" fill="none"/>
<path d="M187.80,137.55V139.85M186.80,138.12L188.80,139.27M186.80,139.27L188.80,138.12" stroke="#222" stroke-width="0.62" fill="none"/>
<rect x="196.95" y="192.60" width="3.80" height="22.50" fill="#53226a" stroke="#3c1250" stroke-width="0.45"/>
<rect x="203.65" y="191.70" width="4.05" height="23.40" fill="#e0117f" stroke="#b80c60" stroke-width="0.45"/>
<line x1="198.85" y1="192.4" x2="198.85" y2="192.3" stroke="#444" stroke-width="0.6"/>
<line x1="197.54999999999998" y1="192.3" x2="200.15" y2="192.3" stroke="#444" stroke-width="0.6"/>
<circle cx="197.72" cy="191.50" r="1.2" fill="#fff" stroke="#5a5a5a" stroke-width="0.6"/>
<circle cx="198.40" cy="199.70" r="1.2" fill="#fff" stroke="#5a5a5a" stroke-width="0.6"/>
<circle cx="199.94" cy="198.26" r="1.2" fill="#fff" stroke="#5a5a5a" stroke-width="0.6"/>
<circle cx="199.20" cy="194.16" r="1.2" fill="#fff" stroke="#5a5a5a" stroke-width="0.6"/>
<circle cx="199.26" cy="194.81" r="1.2" fill="#fff" stroke="#5a5a5a" stroke-width="0.6"/>
<circle cx="199.27" cy="195.26" r="1.2" fill="#fff" stroke="#5a5a5a" stroke-width="0.6"/>
<circle cx="198.49" cy="196.40" r="1.2" fill="#fff" stroke="#5a5a5a" stroke-width="0.6"/>
<circle cx="199.30" cy="195.23" r="1.2" fill="#fff" stroke="#5a5a5a" stroke-width="0.6"/>
<circle cx="197.73" cy="195.23" r="1.2" fill="#fff" stroke="#5a5a5a" stroke-width="0.6"/>
<line x1="205.67499999999998" y1="191.5" x2="205.67499999999998" y2="176.10000000000002" stroke="#444" stroke-width="0.6"/>
<line x1="204.37499999999997" y1="176.10000000000002" x2="206.975" y2="176.10000000000002" stroke="#444" stroke-width="0.6"/>
<circle cx="205.69" cy="175.30" r="1.2" fill="#fff" stroke="#5a5a5a" stroke-width="0.6"/>
<circle cx="206.06" cy="196.00" r="1.2" fill="#fff" stroke="#5a5a5a" stroke-width="0.6"/>
<circle cx="206.07" cy="183.82" r="1.2" fill="#fff" stroke="#5a5a5a" stroke-width="0.6"/>
<circle cx="204.66" cy="188.34" r="1.2" fill="#fff" stroke="#5a5a5a" stroke-width="0.6"/>
<circle cx="206.67" cy="181.32" r="1.2" fill="#fff" stroke="#5a5a5a" stroke-width="0.6"/>
<circle cx="204.87" cy="180.73" r="1.2" fill="#fff" stroke="#5a5a5a" stroke-width="0.6"/>
<circle cx="206.11" cy="181.76" r="1.2" fill="#fff" stroke="#5a5a5a" stroke-width="0.6"/>
<circle cx="205.11" cy="189.28" r="1.2" fill="#fff" stroke="#5a5a5a" stroke-width="0.6"/>
<circle cx="205.36" cy="182.71" r="1.2" fill="#fff" stroke="#5a5a5a" stroke-width="0.6"/>
<circle cx="205.36" cy="185.35" r="1.2" fill="#fff" stroke="#5a5a5a" stroke-width="0.6"/>
<circle cx="206.24" cy="188.03" r="1.2" fill="#fff" stroke="#5a5a5a" stroke-width="0.6"/>
<line x1="202.325" y1="215.1" x2="202.325" y2="218.1" stroke="#222" stroke-width="0.8"/>
<text x="206.02" y="223.9" font-size="6.5" fill="#474747" stroke="#474747" stroke-width="0.1" text-anchor="end" transform="rotate(-45 206.02 223.9)">pre-BII large</text>
<line x1="196.75" y1="142" x2="207.89999999999998" y2="142" stroke="#333" stroke-width="1.0"/>
<path d="M198.20,137.55V139.85M197.20,138.12L199.20,139.27M197.20,139.27L199.20,138.12" stroke="#222" stroke-width="0.62" fill="none"/>
<path d="M200.95,137.55V139.85M199.95,138.12L201.95,139.27M199.95,139.27L201.95,138.12" stroke="#222" stroke-width="0.62" fill="none"/>
<path d="M203.70,137.55V139.85M202.70,138.12L204.70,139.27M202.70,139.27L204.70,138.12" stroke="#222" stroke-width="0.62" fill="none"/>
<path d="M206.45,137.55V139.85M205.45,138.12L207.45,139.27M205.45,139.27L207.45,138.12" stroke="#222" stroke-width="0.62" fill="none"/>
<rect x="215.60" y="199.90" width="3.80" height="15.20" fill="#53226a" stroke="#3c1250" stroke-width="0.45"/>
<rect x="222.30" y="194.40" width="4.05" height="20.70" fill="#e0117f" stroke="#b80c60" stroke-width="0.45"/>
<line x1="217.5" y1="199.7" x2="217.5" y2="193.20000000000002" stroke="#444" stroke-width="0.6"/>
<line x1="216.2" y1="193.20000000000002" x2="218.8" y2="193.20000000000002" stroke="#444" stroke-width="0.6"/>
<circle cx="216.99" cy="192.40" r="1.2" fill="#fff" stroke="#5a5a5a" stroke-width="0.6"/>
<circle cx="218.15" cy="199.70" r="1.2" fill="#fff" stroke="#5a5a5a" stroke-width="0.6"/>
<circle cx="217.65" cy="195.10" r="1.2" fill="#fff" stroke="#5a5a5a" stroke-width="0.6"/>
<circle cx="218.58" cy="196.70" r="1.2" fill="#fff" stroke="#5a5a5a" stroke-width="0.6"/>
<circle cx="218.64" cy="195.21" r="1.2" fill="#fff" stroke="#5a5a5a" stroke-width="0.6"/>
<circle cx="216.70" cy="196.57" r="1.2" fill="#fff" stroke="#5a5a5a" stroke-width="0.6"/>
<circle cx="216.87" cy="195.77" r="1.2" fill="#fff" stroke="#5a5a5a" stroke-width="0.6"/>
<circle cx="218.27" cy="195.65" r="1.2" fill="#fff" stroke="#5a5a5a" stroke-width="0.6"/>
<line x1="224.325" y1="194.2" x2="224.325" y2="183.3" stroke="#444" stroke-width="0.6"/>
<line x1="223.02499999999998" y1="183.3" x2="225.625" y2="183.3" stroke="#444" stroke-width="0.6"/>
<circle cx="224.46" cy="182.50" r="1.2" fill="#fff" stroke="#5a5a5a" stroke-width="0.6"/>
<circle cx="223.23" cy="199.70" r="1.2" fill="#fff" stroke="#5a5a5a" stroke-width="0.6"/>
<circle cx="223.59" cy="193.36" r="1.2" fill="#fff" stroke="#5a5a5a" stroke-width="0.6"/>
<circle cx="223.91" cy="194.01" r="1.2" fill="#fff" stroke="#5a5a5a" stroke-width="0.6"/>
<circle cx="223.91" cy="186.87" r="1.2" fill="#fff" stroke="#5a5a5a" stroke-width="0.6"/>
<circle cx="224.67" cy="186.68" r="1.2" fill="#fff" stroke="#5a5a5a" stroke-width="0.6"/>
<circle cx="223.47" cy="192.14" r="1.2" fill="#fff" stroke="#5a5a5a" stroke-width="0.6"/>
<circle cx="223.27" cy="193.41" r="1.2" fill="#fff" stroke="#5a5a5a" stroke-width="0.6"/>
<circle cx="224.08" cy="188.19" r="1.2" fill="#fff" stroke="#5a5a5a" stroke-width="0.6"/>
<circle cx="223.19" cy="193.93" r="1.2" fill="#fff" stroke="#5a5a5a" stroke-width="0.6"/>
<circle cx="223.77" cy="191.07" r="1.2" fill="#fff" stroke="#5a5a5a" stroke-width="0.6"/>
<line x1="220.975" y1="215.1" x2="220.975" y2="218.1" stroke="#222" stroke-width="0.8"/>
<text x="224.67" y="223.9" font-size="6.5" fill="#474747" stroke="#474747" stroke-width="0.1" text-anchor="end" transform="rotate(-45 224.67 223.9)">pre-BII small</text>
<line x1="215.4" y1="142" x2="226.54999999999998" y2="142" stroke="#333" stroke-width="1.0"/>
<path d="M220.97,137.55V139.85M219.97,138.12L221.98,139.27M219.97,139.27L221.98,138.12" stroke="#222" stroke-width="0.62" fill="none"/>
<line x1="262" y1="141.4" x2="262" y2="215.6" stroke="#222" stroke-width="1.1"/>
<line x1="261.5" y1="215.1" x2="372" y2="215.1" stroke="#222" stroke-width="1.1"/>
<line x1="259.6" y1="142.0" x2="262" y2="142.0" stroke="#222" stroke-width="0.9"/>
<text x="254.4" y="144.8" font-size="6.2" fill="#404040" stroke="#404040" stroke-width="0.18" text-anchor="end">1×10<tspan font-size="3.6" dy="-2.6">5</tspan></text>
<line x1="259.6" y1="156.62" x2="262" y2="156.62" stroke="#222" stroke-width="0.9"/>
<text x="254.4" y="159.42000000000002" font-size="6.2" fill="#404040" stroke="#404040" stroke-width="0.18" text-anchor="end">1×10<tspan font-size="3.6" dy="-2.6">4</tspan></text>
<line x1="259.6" y1="171.24" x2="262" y2="171.24" stroke="#222" stroke-width="0.9"/>
<text x="254.4" y="174.04000000000002" font-size="6.2" fill="#404040" stroke="#404040" stroke-width="0.18" text-anchor="end">1×10<tspan font-size="3.6" dy="-2.6">3</tspan></text>
<line x1="259.6" y1="185.86" x2="262" y2="185.86" stroke="#222" stroke-width="0.9"/>
<text x="254.4" y="188.66000000000003" font-size="6.2" fill="#404040" stroke="#404040" stroke-width="0.18" text-anchor="end">1×10<tspan font-size="3.6" dy="-2.6">2</tspan></text>
<line x1="259.6" y1="200.48" x2="262" y2="200.48" stroke="#222" stroke-width="0.9"/>
<text x="254.4" y="203.28" font-size="6.2" fill="#404040" stroke="#404040" stroke-width="0.18" text-anchor="end">1×10<tspan font-size="3.6" dy="-2.6">1</tspan></text>
<line x1="259.6" y1="215.1" x2="262" y2="215.1" stroke="#222" stroke-width="0.9"/>
<text x="254.4" y="217.9" font-size="6.2" fill="#404040" stroke="#404040" stroke-width="0.18" text-anchor="end">1×10<tspan font-size="3.6" dy="-2.6">0</tspan></text>
<line x1="260.5" y1="146.4" x2="262" y2="146.4" stroke="#333" stroke-width="0.7"/>
<line x1="260.5" y1="161.02" x2="262" y2="161.02" stroke="#333" stroke-width="0.7"/>
<line x1="260.5" y1="175.64000000000001" x2="262" y2="175.64000000000001" stroke="#333" stroke-width="0.7"/>
<line x1="260.5" y1="190.26000000000002" x2="262" y2="190.26000000000002" stroke="#333" stroke-width="0.7"/>
<line x1="260.5" y1="204.88" x2="262" y2="204.88" stroke="#333" stroke-width="0.7"/>
<rect x="265.20" y="182.50" width="3.80" height="32.60" fill="#53226a" stroke="#3c1250" stroke-width="0.45"/>
<rect x="271.80" y="178.20" width="4.05" height="36.90" fill="#e0117f" stroke="#b80c60" stroke-width="0.45"/>
<line x1="267.1" y1="182.3" x2="267.1" y2="172.5" stroke="#444" stroke-width="0.6"/>
<line x1="265.8" y1="172.5" x2="268.40000000000003" y2="172.5" stroke="#444" stroke-width="0.6"/>
<circle cx="267.32" cy="171.70" r="1.2" fill="#fff" stroke="#5a5a5a" stroke-width="0.6"/>
<circle cx="266.74" cy="189.70" r="1.2" fill="#fff" stroke="#5a5a5a" stroke-width="0.6"/>
<circle cx="266.92" cy="178.73" r="1.2" fill="#fff" stroke="#5a5a5a" stroke-width="0.6"/>
<circle cx="266.80" cy="178.72" r="1.2" fill="#fff" stroke="#5a5a5a" stroke-width="0.6"/>
<circle cx="267.95" cy="174.58" r="1.2" fill="#fff" stroke="#5a5a5a" stroke-width="0.6"/>
<circle cx="267.54" cy="182.44" r="1.2" fill="#fff" stroke="#5a5a5a" stroke-width="0.6"/>
<circle cx="268.15" cy="182.14" r="1.2" fill="#fff" stroke="#5a5a5a" stroke-width="0.6"/>
<circle cx="267.80" cy="175.85" r="1.2" fill="#fff" stroke="#5a5a5a" stroke-width="0.6"/>
<circle cx="268.06" cy="182.56" r="1.2" fill="#fff" stroke="#5a5a5a" stroke-width="0.6"/>
<circle cx="267.84" cy="181.30" r="1.2" fill="#fff" stroke="#5a5a5a" stroke-width="0.6"/>
<circle cx="267.37" cy="184.48" r="1.2" fill="#fff" stroke="#5a5a5a" stroke-width="0.6"/>
<circle cx="267.43" cy="179.86" r="1.2" fill="#fff" stroke="#5a5a5a" stroke-width="0.6"/>
<line x1="273.82500000000005" y1="178" x2="273.82500000000005" y2="171.5" stroke="#444" stroke-width="0.6"/>
<line x1="272.52500000000003" y1="171.5" x2="275.12500000000006" y2="171.5" stroke="#444" stroke-width="0.6"/>
<circle cx="273.59" cy="170.70" r="1.2" fill="#fff" stroke="#5a5a5a" stroke-width="0.6"/>
<circle cx="274.51" cy="183.40" r="1.2" fill="#fff" stroke="#5a5a5a" stroke-width="0.6"/>
<circle cx="274.21" cy="175.73" r="1.2" fill="#fff" stroke="#5a5a5a" stroke-width="0.6"/>
<circle cx="274.89" cy="176.92" r="1.2" fill="#fff" stroke="#5a5a5a" stroke-width="0.6"/>
<circle cx="274.86" cy="175.33" r="1.2" fill="#fff" stroke="#5a5a5a" stroke-width="0.6"/>
<circle cx="274.65" cy="178.27" r="1.2" fill="#fff" stroke="#5a5a5a" stroke-width="0.6"/>
<circle cx="274.89" cy="178.34" r="1.2" fill="#fff" stroke="#5a5a5a" stroke-width="0.6"/>
<circle cx="274.87" cy="176.69" r="1.2" fill="#fff" stroke="#5a5a5a" stroke-width="0.6"/>
<circle cx="274.57" cy="178.02" r="1.2" fill="#fff" stroke="#5a5a5a" stroke-width="0.6"/>
<circle cx="274.84" cy="176.67" r="1.2" fill="#fff" stroke="#5a5a5a" stroke-width="0.6"/>
<circle cx="273.40" cy="176.76" r="1.2" fill="#fff" stroke="#5a5a5a" stroke-width="0.6"/>
<line x1="270.525" y1="215.1" x2="270.525" y2="218.1" stroke="#222" stroke-width="0.8"/>
<text x="274.22" y="223.9" font-size="6.5" fill="#474747" stroke="#474747" stroke-width="0.1" text-anchor="end" transform="rotate(-45 274.22 223.9)">CLP</text>
<line x1="265.0" y1="142" x2="276.05" y2="142" stroke="#333" stroke-width="1.0"/>
<path d="M270.52,137.55V139.85M269.52,138.12L271.53,139.27M269.52,139.27L271.53,138.12" stroke="#222" stroke-width="0.62" fill="none"/>
<rect x="283.90" y="175.10" width="3.80" height="40.00" fill="#53226a" stroke="#3c1250" stroke-width="0.45"/>
<rect x="290.50" y="167.70" width="4.05" height="47.40" fill="#e0117f" stroke="#b80c60" stroke-width="0.45"/>
<line x1="285.8" y1="174.9" x2="285.8" y2="164.10000000000002" stroke="#444" stroke-width="0.6"/>
<line x1="284.5" y1="164.10000000000002" x2="287.1" y2="164.10000000000002" stroke="#444" stroke-width="0.6"/>
<circle cx="286.87" cy="163.30" r="1.2" fill="#fff" stroke="#5a5a5a" stroke-width="0.6"/>
<circle cx="285.89" cy="183.40" r="1.2" fill="#fff" stroke="#5a5a5a" stroke-width="0.6"/>
<circle cx="284.74" cy="171.46" r="1.2" fill="#fff" stroke="#5a5a5a" stroke-width="0.6"/>
<circle cx="285.43" cy="174.53" r="1.2" fill="#fff" stroke="#5a5a5a" stroke-width="0.6"/>
<circle cx="284.72" cy="174.96" r="1.2" fill="#fff" stroke="#5a5a5a" stroke-width="0.6"/>
<circle cx="286.21" cy="172.18" r="1.2" fill="#fff" stroke="#5a5a5a" stroke-width="0.6"/>
<circle cx="285.52" cy="179.17" r="1.2" fill="#fff" stroke="#5a5a5a" stroke-width="0.6"/>
<circle cx="286.56" cy="175.73" r="1.2" fill="#fff" stroke="#5a5a5a" stroke-width="0.6"/>
<circle cx="284.85" cy="175.12" r="1.2" fill="#fff" stroke="#5a5a5a" stroke-width="0.6"/>
<circle cx="285.20" cy="171.66" r="1.2" fill="#fff" stroke="#5a5a5a" stroke-width="0.6"/>
<circle cx="286.62" cy="174.43" r="1.2" fill="#fff" stroke="#5a5a5a" stroke-width="0.6"/>
<line x1="292.52500000000003" y1="167.5" x2="292.52500000000003" y2="157.70000000000002" stroke="#444" stroke-width="0.6"/>
<line x1="291.225" y1="157.70000000000002" x2="293.82500000000005" y2="157.70000000000002" stroke="#444" stroke-width="0.6"/>
<circle cx="291.45" cy="156.90" r="1.2" fill="#fff" stroke="#5a5a5a" stroke-width="0.6"/>
<circle cx="293.60" cy="173.80" r="1.2" fill="#fff" stroke="#5a5a5a" stroke-width="0.6"/>
<circle cx="291.97" cy="168.93" r="1.2" fill="#fff" stroke="#5a5a5a" stroke-width="0.6"/>
<circle cx="293.19" cy="164.36" r="1.2" fill="#fff" stroke="#5a5a5a" stroke-width="0.6"/>
<circle cx="292.95" cy="166.07" r="1.2" fill="#fff" stroke="#5a5a5a" stroke-width="0.6"/>
<circle cx="292.51" cy="163.13" r="1.2" fill="#fff" stroke="#5a5a5a" stroke-width="0.6"/>
<circle cx="292.02" cy="170.54" r="1.2" fill="#fff" stroke="#5a5a5a" stroke-width="0.6"/>
<circle cx="291.74" cy="165.38" r="1.2" fill="#fff" stroke="#5a5a5a" stroke-width="0.6"/>
<circle cx="293.28" cy="168.65" r="1.2" fill="#fff" stroke="#5a5a5a" stroke-width="0.6"/>
<circle cx="293.58" cy="165.95" r="1.2" fill="#fff" stroke="#5a5a5a" stroke-width="0.6"/>
<circle cx="293.41" cy="172.22" r="1.2" fill="#fff" stroke="#5a5a5a" stroke-width="0.6"/>
<line x1="289.22499999999997" y1="215.1" x2="289.22499999999997" y2="218.1" stroke="#222" stroke-width="0.8"/>
<text x="292.92" y="223.9" font-size="6.5" fill="#474747" stroke="#474747" stroke-width="0.1" text-anchor="end" transform="rotate(-45 292.92 223.9)">pro-B</text>
<line x1="283.7" y1="142" x2="294.75" y2="142" stroke="#333" stroke-width="1.0"/>
<path d="M287.85,137.55V139.85M286.85,138.12L288.85,139.27M286.85,139.27L288.85,138.12" stroke="#222" stroke-width="0.62" fill="none"/>
<path d="M290.60,137.55V139.85M289.60,138.12L291.60,139.27M289.60,139.27L291.60,138.12" stroke="#222" stroke-width="0.62" fill="none"/>
<rect x="302.60" y="156.10" width="3.80" height="59.00" fill="#53226a" stroke="#3c1250" stroke-width="0.45"/>
<rect x="309.20" y="165.60" width="4.05" height="49.50" fill="#e0117f" stroke="#b80c60" stroke-width="0.45"/>
<line x1="304.5" y1="155.9" x2="304.5" y2="148.20000000000002" stroke="#444" stroke-width="0.6"/>
<line x1="303.2" y1="148.20000000000002" x2="305.8" y2="148.20000000000002" stroke="#444" stroke-width="0.6"/>
<circle cx="303.66" cy="147.40" r="1.2" fill="#fff" stroke="#5a5a5a" stroke-width="0.6"/>
<circle cx="304.33" cy="164.30" r="1.2" fill="#fff" stroke="#5a5a5a" stroke-width="0.6"/>
<circle cx="304.89" cy="156.05" r="1.2" fill="#fff" stroke="#5a5a5a" stroke-width="0.6"/>
<circle cx="305.09" cy="153.71" r="1.2" fill="#fff" stroke="#5a5a5a" stroke-width="0.6"/>
<circle cx="303.55" cy="154.55" r="1.2" fill="#fff" stroke="#5a5a5a" stroke-width="0.6"/>
<circle cx="304.65" cy="152.80" r="1.2" fill="#fff" stroke="#5a5a5a" stroke-width="0.6"/>
<circle cx="305.11" cy="159.86" r="1.2" fill="#fff" stroke="#5a5a5a" stroke-width="0.6"/>
<circle cx="304.08" cy="152.07" r="1.2" fill="#fff" stroke="#5a5a5a" stroke-width="0.6"/>
<circle cx="303.57" cy="159.77" r="1.2" fill="#fff" stroke="#5a5a5a" stroke-width="0.6"/>
<circle cx="305.36" cy="153.78" r="1.2" fill="#fff" stroke="#5a5a5a" stroke-width="0.6"/>
<circle cx="303.35" cy="156.92" r="1.2" fill="#fff" stroke="#5a5a5a" stroke-width="0.6"/>
<circle cx="304.19" cy="153.77" r="1.2" fill="#fff" stroke="#5a5a5a" stroke-width="0.6"/>
<line x1="311.225" y1="165.4" x2="311.225" y2="154.60000000000002" stroke="#444" stroke-width="0.6"/>
<line x1="309.925" y1="154.60000000000002" x2="312.52500000000003" y2="154.60000000000002" stroke="#444" stroke-width="0.6"/>
<circle cx="310.49" cy="153.80" r="1.2" fill="#fff" stroke="#5a5a5a" stroke-width="0.6"/>
<circle cx="311.38" cy="179.10" r="1.2" fill="#fff" stroke="#5a5a5a" stroke-width="0.6"/>
<circle cx="311.86" cy="162.97" r="1.2" fill="#fff" stroke="#5a5a5a" stroke-width="0.6"/>
<circle cx="311.67" cy="165.34" r="1.2" fill="#fff" stroke="#5a5a5a" stroke-width="0.6"/>
<circle cx="311.65" cy="174.69" r="1.2" fill="#fff" stroke="#5a5a5a" stroke-width="0.6"/>
<circle cx="312.20" cy="168.37" r="1.2" fill="#fff" stroke="#5a5a5a" stroke-width="0.6"/>
<circle cx="311.31" cy="158.40" r="1.2" fill="#fff" stroke="#5a5a5a" stroke-width="0.6"/>
<circle cx="312.11" cy="172.50" r="1.2" fill="#fff" stroke="#5a5a5a" stroke-width="0.6"/>
<circle cx="311.58" cy="165.08" r="1.2" fill="#fff" stroke="#5a5a5a" stroke-width="0.6"/>
<circle cx="310.45" cy="166.01" r="1.2" fill="#fff" stroke="#5a5a5a" stroke-width="0.6"/>
<circle cx="311.55" cy="163.36" r="1.2" fill="#fff" stroke="#5a5a5a" stroke-width="0.6"/>
<line x1="307.92499999999995" y1="215.1" x2="307.92499999999995" y2="218.1" stroke="#222" stroke-width="0.8"/>
<text x="311.62" y="223.9" font-size="6.5" fill="#474747" stroke="#474747" stroke-width="0.1" text-anchor="end" transform="rotate(-45 311.62 223.9)">pre-BI</text>
<line x1="302.4" y1="142" x2="313.45" y2="142" stroke="#333" stroke-width="1.0"/>
<path d="M307.92,137.55V139.85M306.92,138.12L308.93,139.27M306.92,139.27L308.93,138.12" stroke="#222" stroke-width="0.62" fill="none"/>
<rect x="321.30" y="184.60" width="3.80" height="30.50" fill="#53226a" stroke="#3c1250" stroke-width="0.45"/>
<rect x="327.90" y="170.90" width="4.05" height="44.20" fill="#e0117f" stroke="#b80c60" stroke-width="0.45"/>
<line x1="323.20000000000005" y1="184.4" x2="323.20000000000005" y2="176.8" stroke="#444" stroke-width="0.6"/>
<line x1="321.90000000000003" y1="176.8" x2="324.50000000000006" y2="176.8" stroke="#444" stroke-width="0.6"/>
<circle cx="323.04" cy="176.00" r="1.2" fill="#fff" stroke="#5a5a5a" stroke-width="0.6"/>
<circle cx="323.26" cy="194.00" r="1.2" fill="#fff" stroke="#5a5a5a" stroke-width="0.6"/>
<circle cx="323.71" cy="182.97" r="1.2" fill="#fff" stroke="#5a5a5a" stroke-width="0.6"/>
<circle cx="322.13" cy="187.00" r="1.2" fill="#fff" stroke="#5a5a5a" stroke-width="0.6"/>
<circle cx="322.22" cy="187.40" r="1.2" fill="#fff" stroke="#5a5a5a" stroke-width="0.6"/>
<circle cx="323.56" cy="188.25" r="1.2" fill="#fff" stroke="#5a5a5a" stroke-width="0.6"/>
<circle cx="322.19" cy="189.88" r="1.2" fill="#fff" stroke="#5a5a5a" stroke-width="0.6"/>
<circle cx="323.94" cy="184.87" r="1.2" fill="#fff" stroke="#5a5a5a" stroke-width="0.6"/>
<circle cx="322.97" cy="184.21" r="1.2" fill="#fff" stroke="#5a5a5a" stroke-width="0.6"/>
<circle cx="323.29" cy="187.91" r="1.2" fill="#fff" stroke="#5a5a5a" stroke-width="0.6"/>
<circle cx="323.24" cy="184.23" r="1.2" fill="#fff" stroke="#5a5a5a" stroke-width="0.6"/>
<line x1="329.92500000000007" y1="170.7" x2="329.92500000000007" y2="159.8" stroke="#444" stroke-width="0.6"/>
<line x1="328.62500000000006" y1="159.8" x2="331.2250000000001" y2="159.8" stroke="#444" stroke-width="0.6"/>
<circle cx="330.24" cy="159.00" r="1.2" fill="#fff" stroke="#5a5a5a" stroke-width="0.6"/>
<circle cx="329.47" cy="180.20" r="1.2" fill="#fff" stroke="#5a5a5a" stroke-width="0.6"/>
<circle cx="328.82" cy="170.58" r="1.2" fill="#fff" stroke="#5a5a5a" stroke-width="0.6"/>
<circle cx="329.57" cy="167.64" r="1.2" fill="#fff" stroke="#5a5a5a" stroke-width="0.6"/>
<circle cx="330.68" cy="171.06" r="1.2" fill="#fff" stroke="#5a5a5a" stroke-width="0.6"/>
<circle cx="328.88" cy="176.57" r="1.2" fill="#fff" stroke="#5a5a5a" stroke-width="0.6"/>
<circle cx="329.69" cy="164.89" r="1.2" fill="#fff" stroke="#5a5a5a" stroke-width="0.6"/>
<circle cx="329.59" cy="170.79" r="1.2" fill="#fff" stroke="#5a5a5a" stroke-width="0.6"/>
<circle cx="328.84" cy="165.65" r="1.2" fill="#fff" stroke="#5a5a5a" stroke-width="0.6"/>
<circle cx="329.27" cy="174.13" r="1.2" fill="#fff" stroke="#5a5a5a" stroke-width="0.6"/>
<circle cx="331.07" cy="170.80" r="1.2" fill="#fff" stroke="#5a5a5a" stroke-width="0.6"/>
<line x1="326.625" y1="215.1" x2="326.625" y2="218.1" stroke="#222" stroke-width="0.8"/>
<text x="330.32" y="223.9" font-size="6.5" fill="#474747" stroke="#474747" stroke-width="0.1" text-anchor="end" transform="rotate(-45 330.32 223.9)">pre-BII large</text>
<line x1="321.1" y1="142" x2="332.15000000000003" y2="142" stroke="#333" stroke-width="1.0"/>
<path d="M322.50,137.55V139.85M321.50,138.12L323.50,139.27M321.50,139.27L323.50,138.12" stroke="#222" stroke-width="0.62" fill="none"/>
<path d="M325.25,137.55V139.85M324.25,138.12L326.25,139.27M324.25,139.27L326.25,138.12" stroke="#222" stroke-width="0.62" fill="none"/>
<path d="M328.00,137.55V139.85M327.00,138.12L329.00,139.27M327.00,139.27L329.00,138.12" stroke="#222" stroke-width="0.62" fill="none"/>
<path d="M330.75,137.55V139.85M329.75,138.12L331.75,139.27M329.75,139.27L331.75,138.12" stroke="#222" stroke-width="0.62" fill="none"/>
<rect x="340.00" y="179.30" width="3.80" height="35.80" fill="#53226a" stroke="#3c1250" stroke-width="0.45"/>
<rect x="346.60" y="170.90" width="4.05" height="44.20" fill="#e0117f" stroke="#b80c60" stroke-width="0.45"/>
<line x1="341.90000000000003" y1="179.1" x2="341.90000000000003" y2="174.60000000000002" stroke="#444" stroke-width="0.6"/>
<line x1="340.6" y1="174.60000000000002" x2="343.20000000000005" y2="174.60000000000002" stroke="#444" stroke-width="0.6"/>
<circle cx="341.18" cy="173.80" r="1.2" fill="#fff" stroke="#5a5a5a" stroke-width="0.6"/>
<circle cx="342.97" cy="190.80" r="1.2" fill="#fff" stroke="#5a5a5a" stroke-width="0.6"/>
<circle cx="341.75" cy="181.87" r="1.2" fill="#fff" stroke="#5a5a5a" stroke-width="0.6"/>
<circle cx="341.74" cy="188.87" r="1.2" fill="#fff" stroke="#5a5a5a" stroke-width="0.6"/>
<circle cx="340.88" cy="178.47" r="1.2" fill="#fff" stroke="#5a5a5a" stroke-width="0.6"/>
<circle cx="341.84" cy="182.65" r="1.2" fill="#fff" stroke="#5a5a5a" stroke-width="0.6"/>
<circle cx="341.83" cy="184.79" r="1.2" fill="#fff" stroke="#5a5a5a" stroke-width="0.6"/>
<circle cx="342.50" cy="180.65" r="1.2" fill="#fff" stroke="#5a5a5a" stroke-width="0.6"/>
<circle cx="342.92" cy="179.31" r="1.2" fill="#fff" stroke="#5a5a5a" stroke-width="0.6"/>
<circle cx="342.37" cy="181.05" r="1.2" fill="#fff" stroke="#5a5a5a" stroke-width="0.6"/>
<circle cx="340.94" cy="179.98" r="1.2" fill="#fff" stroke="#5a5a5a" stroke-width="0.6"/>
<line x1="348.62500000000006" y1="170.7" x2="348.62500000000006" y2="157.70000000000002" stroke="#444" stroke-width="0.6"/>
<line x1="347.32500000000005" y1="157.70000000000002" x2="349.92500000000007" y2="157.70000000000002" stroke="#444" stroke-width="0.6"/>
<circle cx="347.62" cy="156.90" r="1.2" fill="#fff" stroke="#5a5a5a" stroke-width="0.6"/>
<circle cx="347.48" cy="179.10" r="1.2" fill="#fff" stroke="#5a5a5a" stroke-width="0.6"/>
<circle cx="349.15" cy="166.49" r="1.2" fill="#fff" stroke="#5a5a5a" stroke-width="0.6"/>
<circle cx="349.33" cy="167.57" r="1.2" fill="#fff" stroke="#5a5a5a" stroke-width="0.6"/>
<circle cx="347.75" cy="171.16" r="1.2" fill="#fff" stroke="#5a5a5a" stroke-width="0.6"/>
<circle cx="349.24" cy="166.61" r="1.2" fill="#fff" stroke="#5a5a5a" stroke-width="0.6"/>
<circle cx="347.48" cy="162.13" r="1.2" fill="#fff" stroke="#5a5a5a" stroke-width="0.6"/>
<circle cx="348.64" cy="175.92" r="1.2" fill="#fff" stroke="#5a5a5a" stroke-width="0.6"/>
<circle cx="349.28" cy="161.95" r="1.2" fill="#fff" stroke="#5a5a5a" stroke-width="0.6"/>
<circle cx="348.69" cy="164.18" r="1.2" fill="#fff" stroke="#5a5a5a" stroke-width="0.6"/>
<circle cx="348.20" cy="168.36" r="1.2" fill="#fff" stroke="#5a5a5a" stroke-width="0.6"/>
<line x1="345.325" y1="215.1" x2="345.325" y2="218.1" stroke="#222" stroke-width="0.8"/>
<text x="349.02" y="223.9" font-size="6.5" fill="#474747" stroke="#474747" stroke-width="0.1" text-anchor="end" transform="rotate(-45 349.02 223.9)">pre-BII small</text>
<line x1="339.8" y1="142" x2="350.85" y2="142" stroke="#333" stroke-width="1.0"/>
<path d="M341.20,137.55V139.85M340.20,138.12L342.20,139.27M340.20,139.27L342.20,138.12" stroke="#222" stroke-width="0.62" fill="none"/>
<path d="M343.95,137.55V139.85M342.95,138.12L344.95,139.27M342.95,139.27L344.95,138.12" stroke="#222" stroke-width="0.62" fill="none"/>
<path d="M346.70,137.55V139.85M345.70,138.12L347.70,139.27M345.70,139.27L347.70,138.12" stroke="#222" stroke-width="0.62" fill="none"/>
<path d="M349.45,137.55V139.85M348.45,138.12L350.45,139.27M348.45,139.27L350.45,138.12" stroke="#222" stroke-width="0.62" fill="none"/>
<rect x="358.70" y="192.00" width="3.80" height="23.10" fill="#53226a" stroke="#3c1250" stroke-width="0.45"/>
<rect x="365.30" y="181.50" width="4.05" height="33.60" fill="#e0117f" stroke="#b80c60" stroke-width="0.45"/>
<line x1="360.6" y1="191.8" x2="360.6" y2="187.3" stroke="#444" stroke-width="0.6"/>
<line x1="359.3" y1="187.3" x2="361.90000000000003" y2="187.3" stroke="#444" stroke-width="0.6"/>
<circle cx="360.72" cy="186.50" r="1.2" fill="#fff" stroke="#5a5a5a" stroke-width="0.6"/>
<circle cx="359.88" cy="201.30" r="1.2" fill="#fff" stroke="#5a5a5a" stroke-width="0.6"/>
<circle cx="361.45" cy="192.10" r="1.2" fill="#fff" stroke="#5a5a5a" stroke-width="0.6"/>
<circle cx="360.42" cy="194.54" r="1.2" fill="#fff" stroke="#5a5a5a" stroke-width="0.6"/>
<circle cx="360.14" cy="195.14" r="1.2" fill="#fff" stroke="#5a5a5a" stroke-width="0.6"/>
<circle cx="359.82" cy="191.41" r="1.2" fill="#fff" stroke="#5a5a5a" stroke-width="0.6"/>
<circle cx="360.97" cy="198.80" r="1.2" fill="#fff" stroke="#5a5a5a" stroke-width="0.6"/>
<circle cx="360.30" cy="194.17" r="1.2" fill="#fff" stroke="#5a5a5a" stroke-width="0.6"/>
<circle cx="359.57" cy="190.71" r="1.2" fill="#fff" stroke="#5a5a5a" stroke-width="0.6"/>
<circle cx="360.55" cy="195.40" r="1.2" fill="#fff" stroke="#5a5a5a" stroke-width="0.6"/>
<circle cx="361.29" cy="195.84" r="1.2" fill="#fff" stroke="#5a5a5a" stroke-width="0.6"/>
<line x1="367.32500000000005" y1="181.3" x2="367.32500000000005" y2="172.5" stroke="#444" stroke-width="0.6"/>
<line x1="366.02500000000003" y1="172.5" x2="368.62500000000006" y2="172.5" stroke="#444" stroke-width="0.6"/>
<circle cx="368.06" cy="171.70" r="1.2" fill="#fff" stroke="#5a5a5a" stroke-width="0.6"/>
<circle cx="366.77" cy="192.90" r="1.2" fill="#fff" stroke="#5a5a5a" stroke-width="0.6"/>
<circle cx="366.53" cy="182.14" r="1.2" fill="#fff" stroke="#5a5a5a" stroke-width="0.6"/>
<circle cx="366.91" cy="180.97" r="1.2" fill="#fff" stroke="#5a5a5a" stroke-width="0.6"/>
<circle cx="367.86" cy="183.49" r="1.2" fill="#fff" stroke="#5a5a5a" stroke-width="0.6"/>
<circle cx="367.49" cy="184.69" r="1.2" fill="#fff" stroke="#5a5a5a" stroke-width="0.6"/>
<circle cx="368.28" cy="180.03" r="1.2" fill="#fff" stroke="#5a5a5a" stroke-width="0.6"/>
<circle cx="366.45" cy="185.49" r="1.2" fill="#fff" stroke="#5a5a5a" stroke-width="0.6"/>
<circle cx="367.40" cy="190.80" r="1.2" fill="#fff" stroke="#5a5a5a" stroke-width="0.6"/>
<circle cx="367.99" cy="178.00" r="1.2" fill="#fff" stroke="#5a5a5a" stroke-width="0.6"/>
<circle cx="367.57" cy="180.34" r="1.2" fill="#fff" stroke="#5a5a5a" stroke-width="0.6"/>
<line x1="364.025" y1="215.1" x2="364.025" y2="218.1" stroke="#222" stroke-width="0.8"/>
<text x="367.72" y="223.9" font-size="6.5" fill="#474747" stroke="#474747" stroke-width="0.1" text-anchor="end" transform="rotate(-45 367.72 223.9)">immature</text>
<line x1="358.5" y1="142" x2="369.55" y2="142" stroke="#333" stroke-width="1.0"/>
<path d="M361.27,137.55V139.85M360.27,138.12L362.28,139.27M360.27,139.27L362.28,138.12" stroke="#222" stroke-width="0.62" fill="none"/>
<path d="M364.02,137.55V139.85M363.02,138.12L365.03,139.27M363.02,139.27L365.03,138.12" stroke="#222" stroke-width="0.62" fill="none"/>
<path d="M366.77,137.55V139.85M365.77,138.12L367.78,139.27M365.77,139.27L367.78,138.12" stroke="#222" stroke-width="0.62" fill="none"/>
<rect x="156.30" y="256.50" width="3.00" height="3.30" fill="#53226a"/>
<text x="163.6" y="260" font-size="5.2" fill="#404040" stroke="#404040" stroke-width="0.18" textLength="12.4" lengthAdjust="spacingAndGlyphs">+IL-7</text>
<rect x="191.80" y="256.50" width="3.00" height="3.30" fill="#e0117f"/>
<text x="197.9" y="260" font-size="5.2" fill="#404040" stroke="#404040" stroke-width="0.18" textLength="11.8" lengthAdjust="spacingAndGlyphs">–IL-7</text>
<line x1="430.7" y1="141.8" x2="430.7" y2="215.8" stroke="#222" stroke-width="1.1"/>
<line x1="430.2" y1="215.3" x2="483.5" y2="215.3" stroke="#222" stroke-width="1.1"/>
<line x1="428.3" y1="142.4" x2="430.7" y2="142.4" stroke="#222" stroke-width="0.9"/>
<text x="423.09999999999997" y="145.20000000000002" font-size="6.2" fill="#404040" stroke="#404040" stroke-width="0.18" text-anchor="end">1×10<tspan font-size="3.6" dy="-2.6">6</tspan></text>
<line x1="428.3" y1="166.67000000000002" x2="430.7" y2="166.67000000000002" stroke="#222" stroke-width="0.9"/>
<text x="423.09999999999997" y="169.47000000000003" font-size="6.2" fill="#404040" stroke="#404040" stroke-width="0.18" text-anchor="end">1×10<tspan font-size="3.6" dy="-2.6">4</tspan></text>
<line x1="428.3" y1="190.94" x2="430.7" y2="190.94" stroke="#222" stroke-width="0.9"/>
<text x="423.09999999999997" y="193.74" font-size="6.2" fill="#404040" stroke="#404040" stroke-width="0.18" text-anchor="end">1×10<tspan font-size="3.6" dy="-2.6">2</tspan></text>
<line x1="428.3" y1="215.21" x2="430.7" y2="215.21" stroke="#222" stroke-width="0.9"/>
<text x="423.09999999999997" y="218.01000000000002" font-size="6.2" fill="#404040" stroke="#404040" stroke-width="0.18" text-anchor="end">1×10<tspan font-size="3.6" dy="-2.6">0</tspan></text>
<line x1="429.2" y1="148.4" x2="430.7" y2="148.4" stroke="#333" stroke-width="0.7"/>
<line x1="429.2" y1="172.67000000000002" x2="430.7" y2="172.67000000000002" stroke="#333" stroke-width="0.7"/>
<line x1="429.2" y1="196.94" x2="430.7" y2="196.94" stroke="#333" stroke-width="0.7"/>
<rect x="433.00" y="181.20" width="3.80" height="34.10" fill="#53226a" stroke="#3c1250" stroke-width="0.45"/>
<rect x="440.00" y="184.20" width="4.05" height="31.10" fill="#e0117f" stroke="#b80c60" stroke-width="0.45"/>
<line x1="434.90000000000003" y1="181" x2="434.90000000000003" y2="166.10000000000002" stroke="#444" stroke-width="0.6"/>
<line x1="433.6" y1="166.10000000000002" x2="436.20000000000005" y2="166.10000000000002" stroke="#444" stroke-width="0.6"/>
<circle cx="435.90" cy="165.30" r="1.2" fill="#fff" stroke="#5a5a5a" stroke-width="0.6"/>
<circle cx="434.28" cy="188.60" r="1.2" fill="#fff" stroke="#5a5a5a" stroke-width="0.6"/>
<circle cx="435.40" cy="181.73" r="1.2" fill="#fff" stroke="#5a5a5a" stroke-width="0.6"/>
<circle cx="434.97" cy="173.40" r="1.2" fill="#fff" stroke="#5a5a5a" stroke-width="0.6"/>
<circle cx="434.80" cy="182.12" r="1.2" fill="#fff" stroke="#5a5a5a" stroke-width="0.6"/>
<circle cx="434.23" cy="174.64" r="1.2" fill="#fff" stroke="#5a5a5a" stroke-width="0.6"/>
<circle cx="434.03" cy="175.30" r="1.2" fill="#fff" stroke="#5a5a5a" stroke-width="0.6"/>
<circle cx="434.96" cy="177.97" r="1.2" fill="#fff" stroke="#5a5a5a" stroke-width="0.6"/>
<circle cx="433.99" cy="178.92" r="1.2" fill="#fff" stroke="#5a5a5a" stroke-width="0.6"/>
<circle cx="433.87" cy="171.52" r="1.2" fill="#fff" stroke="#5a5a5a" stroke-width="0.6"/>
<circle cx="435.61" cy="176.49" r="1.2" fill="#fff" stroke="#5a5a5a" stroke-width="0.6"/>
<circle cx="434.43" cy="173.10" r="1.2" fill="#fff" stroke="#5a5a5a" stroke-width="0.6"/>
<line x1="442.02500000000003" y1="184" x2="442.02500000000003" y2="173.10000000000002" stroke="#444" stroke-width="0.6"/>
<line x1="440.725" y1="173.10000000000002" x2="443.32500000000005" y2="173.10000000000002" stroke="#444" stroke-width="0.6"/>
<circle cx="441.87" cy="172.30" r="1.2" fill="#fff" stroke="#5a5a5a" stroke-width="0.6"/>
<circle cx="441.55" cy="191.00" r="1.2" fill="#fff" stroke="#5a5a5a" stroke-width="0.6"/>
<circle cx="441.49" cy="183.08" r="1.2" fill="#fff" stroke="#5a5a5a" stroke-width="0.6"/>
<circle cx="442.34" cy="184.78" r="1.2" fill="#fff" stroke="#5a5a5a" stroke-width="0.6"/>
<circle cx="442.18" cy="181.35" r="1.2" fill="#fff" stroke="#5a5a5a" stroke-width="0.6"/>
<circle cx="441.74" cy="180.48" r="1.2" fill="#fff" stroke="#5a5a5a" stroke-width="0.6"/>
<circle cx="440.91" cy="175.84" r="1.2" fill="#fff" stroke="#5a5a5a" stroke-width="0.6"/>
<circle cx="441.56" cy="184.23" r="1.2" fill="#fff" stroke="#5a5a5a" stroke-width="0.6"/>
<circle cx="441.75" cy="185.25" r="1.2" fill="#fff" stroke="#5a5a5a" stroke-width="0.6"/>
<circle cx="442.33" cy="181.48" r="1.2" fill="#fff" stroke="#5a5a5a" stroke-width="0.6"/>
<circle cx="443.15" cy="181.53" r="1.2" fill="#fff" stroke="#5a5a5a" stroke-width="0.6"/>
<circle cx="442.48" cy="182.34" r="1.2" fill="#fff" stroke="#5a5a5a" stroke-width="0.6"/>
<line x1="438.5" y1="215.3" x2="438.5" y2="218.3" stroke="#222" stroke-width="0.8"/>
<text x="438.5" y="226.9" font-size="6.9" fill="#404040" stroke="#404040" stroke-width="0.18" text-anchor="middle">14</text>
<line x1="432.8" y1="142.4" x2="444.25" y2="142.4" stroke="#333" stroke-width="1.0"/>
<path d="M438.52,137.95V140.25M437.52,138.53L439.53,139.67M437.52,139.67L439.53,138.53" stroke="#222" stroke-width="0.62" fill="none"/>
<rect x="451.70" y="168.20" width="3.80" height="47.10" fill="#53226a" stroke="#3c1250" stroke-width="0.45"/>
<rect x="458.70" y="176.20" width="4.05" height="39.10" fill="#e0117f" stroke="#b80c60" stroke-width="0.45"/>
<line x1="453.6" y1="168" x2="453.6" y2="162.60000000000002" stroke="#444" stroke-width="0.6"/>
<line x1="452.3" y1="162.60000000000002" x2="454.90000000000003" y2="162.60000000000002" stroke="#444" stroke-width="0.6"/>
<circle cx="454.72" cy="161.80" r="1.2" fill="#fff" stroke="#5a5a5a" stroke-width="0.6"/>
<circle cx="453.94" cy="178.10" r="1.2" fill="#fff" stroke="#5a5a5a" stroke-width="0.6"/>
<circle cx="454.01" cy="169.35" r="1.2" fill="#fff" stroke="#5a5a5a" stroke-width="0.6"/>
<circle cx="453.63" cy="168.58" r="1.2" fill="#fff" stroke="#5a5a5a" stroke-width="0.6"/>
<circle cx="453.52" cy="172.89" r="1.2" fill="#fff" stroke="#5a5a5a" stroke-width="0.6"/>
<circle cx="453.15" cy="170.69" r="1.2" fill="#fff" stroke="#5a5a5a" stroke-width="0.6"/>
<circle cx="452.93" cy="171.32" r="1.2" fill="#fff" stroke="#5a5a5a" stroke-width="0.6"/>
<circle cx="453.50" cy="172.04" r="1.2" fill="#fff" stroke="#5a5a5a" stroke-width="0.6"/>
<circle cx="453.84" cy="166.77" r="1.2" fill="#fff" stroke="#5a5a5a" stroke-width="0.6"/>
<circle cx="453.37" cy="170.36" r="1.2" fill="#fff" stroke="#5a5a5a" stroke-width="0.6"/>
<circle cx="452.50" cy="166.57" r="1.2" fill="#fff" stroke="#5a5a5a" stroke-width="0.6"/>
<circle cx="452.48" cy="171.99" r="1.2" fill="#fff" stroke="#5a5a5a" stroke-width="0.6"/>
<line x1="460.725" y1="176" x2="460.725" y2="164.9" stroke="#444" stroke-width="0.6"/>
<line x1="459.425" y1="164.9" x2="462.02500000000003" y2="164.9" stroke="#444" stroke-width="0.6"/>
<circle cx="459.67" cy="164.10" r="1.2" fill="#fff" stroke="#5a5a5a" stroke-width="0.6"/>
<circle cx="461.08" cy="180.50" r="1.2" fill="#fff" stroke="#5a5a5a" stroke-width="0.6"/>
<circle cx="460.50" cy="167.75" r="1.2" fill="#fff" stroke="#5a5a5a" stroke-width="0.6"/>
<circle cx="461.62" cy="167.29" r="1.2" fill="#fff" stroke="#5a5a5a" stroke-width="0.6"/>
<circle cx="460.27" cy="170.64" r="1.2" fill="#fff" stroke="#5a5a5a" stroke-width="0.6"/>
<circle cx="459.75" cy="174.51" r="1.2" fill="#fff" stroke="#5a5a5a" stroke-width="0.6"/>
<circle cx="461.61" cy="174.57" r="1.2" fill="#fff" stroke="#5a5a5a" stroke-width="0.6"/>
<circle cx="461.76" cy="177.37" r="1.2" fill="#fff" stroke="#5a5a5a" stroke-width="0.6"/>
<circle cx="461.30" cy="170.19" r="1.2" fill="#fff" stroke="#5a5a5a" stroke-width="0.6"/>
<circle cx="461.74" cy="171.12" r="1.2" fill="#fff" stroke="#5a5a5a" stroke-width="0.6"/>
<circle cx="461.10" cy="169.48" r="1.2" fill="#fff" stroke="#5a5a5a" stroke-width="0.6"/>
<circle cx="459.67" cy="172.77" r="1.2" fill="#fff" stroke="#5a5a5a" stroke-width="0.6"/>
<line x1="457.2" y1="215.3" x2="457.2" y2="218.3" stroke="#222" stroke-width="0.8"/>
<text x="457.2" y="226.9" font-size="6.9" fill="#404040" stroke="#404040" stroke-width="0.18" text-anchor="middle">21</text>
<line x1="451.5" y1="142.4" x2="462.95" y2="142.4" stroke="#333" stroke-width="1.0"/>
<path d="M455.85,137.95V140.25M454.85,138.53L456.85,139.67M454.85,139.67L456.85,138.53" stroke="#222" stroke-width="0.62" fill="none"/>
<path d="M458.60,137.95V140.25M457.60,138.53L459.60,139.67M457.60,139.67L459.60,138.53" stroke="#222" stroke-width="0.62" fill="none"/>
<rect x="470.40" y="166.20" width="3.80" height="49.10" fill="#53226a" stroke="#3c1250" stroke-width="0.45"/>
<rect x="477.40" y="168.50" width="4.05" height="46.80" fill="#e0117f" stroke="#b80c60" stroke-width="0.45"/>
<line x1="472.3" y1="166" x2="472.3" y2="157.9" stroke="#444" stroke-width="0.6"/>
<line x1="471.0" y1="157.9" x2="473.6" y2="157.9" stroke="#444" stroke-width="0.6"/>
<circle cx="472.79" cy="157.10" r="1.2" fill="#fff" stroke="#5a5a5a" stroke-width="0.6"/>
<circle cx="473.23" cy="172.30" r="1.2" fill="#fff" stroke="#5a5a5a" stroke-width="0.6"/>
<circle cx="473.43" cy="165.12" r="1.2" fill="#fff" stroke="#5a5a5a" stroke-width="0.6"/>
<circle cx="473.39" cy="164.05" r="1.2" fill="#fff" stroke="#5a5a5a" stroke-width="0.6"/>
<circle cx="472.25" cy="164.10" r="1.2" fill="#fff" stroke="#5a5a5a" stroke-width="0.6"/>
<circle cx="471.46" cy="165.02" r="1.2" fill="#fff" stroke="#5a5a5a" stroke-width="0.6"/>
<circle cx="472.52" cy="163.92" r="1.2" fill="#fff" stroke="#5a5a5a" stroke-width="0.6"/>
<circle cx="472.66" cy="166.08" r="1.2" fill="#fff" stroke="#5a5a5a" stroke-width="0.6"/>
<circle cx="471.17" cy="159.02" r="1.2" fill="#fff" stroke="#5a5a5a" stroke-width="0.6"/>
<circle cx="471.89" cy="164.33" r="1.2" fill="#fff" stroke="#5a5a5a" stroke-width="0.6"/>
<circle cx="472.56" cy="160.08" r="1.2" fill="#fff" stroke="#5a5a5a" stroke-width="0.6"/>
<line x1="479.425" y1="168.3" x2="479.425" y2="159.10000000000002" stroke="#444" stroke-width="0.6"/>
<line x1="478.125" y1="159.10000000000002" x2="480.725" y2="159.10000000000002" stroke="#444" stroke-width="0.6"/>
<circle cx="479.85" cy="158.30" r="1.2" fill="#fff" stroke="#5a5a5a" stroke-width="0.6"/>
<circle cx="479.07" cy="172.30" r="1.2" fill="#fff" stroke="#5a5a5a" stroke-width="0.6"/>
<circle cx="478.60" cy="164.34" r="1.2" fill="#fff" stroke="#5a5a5a" stroke-width="0.6"/>
<circle cx="479.07" cy="166.97" r="1.2" fill="#fff" stroke="#5a5a5a" stroke-width="0.6"/>
<circle cx="479.78" cy="169.25" r="1.2" fill="#fff" stroke="#5a5a5a" stroke-width="0.6"/>
<circle cx="478.55" cy="167.24" r="1.2" fill="#fff" stroke="#5a5a5a" stroke-width="0.6"/>
<circle cx="478.84" cy="169.40" r="1.2" fill="#fff" stroke="#5a5a5a" stroke-width="0.6"/>
<circle cx="480.42" cy="162.64" r="1.2" fill="#fff" stroke="#5a5a5a" stroke-width="0.6"/>
<circle cx="478.92" cy="166.41" r="1.2" fill="#fff" stroke="#5a5a5a" stroke-width="0.6"/>
<circle cx="478.94" cy="168.48" r="1.2" fill="#fff" stroke="#5a5a5a" stroke-width="0.6"/>
<circle cx="478.49" cy="167.08" r="1.2" fill="#fff" stroke="#5a5a5a" stroke-width="0.6"/>
<line x1="475.9" y1="215.3" x2="475.9" y2="218.3" stroke="#222" stroke-width="0.8"/>
<text x="475.9" y="226.9" font-size="6.9" fill="#404040" stroke="#404040" stroke-width="0.18" text-anchor="middle">28</text>
<line x1="470.2" y1="142.4" x2="481.65" y2="142.4" stroke="#333" stroke-width="1.0"/>
<text x="475.92499999999995" y="141.1" font-size="6.1" fill="#404040" stroke="#404040" stroke-width="0.18" text-anchor="middle">ns</text>
<text x="457" y="238" font-size="7.3" fill="#404040" stroke="#404040" stroke-width="0.18" text-anchor="middle">Day</text>
<text x="402" y="178.2" font-size="7.3" fill="#404040" stroke="#404040" stroke-width="0.18" text-anchor="middle" transform="rotate(-90 402 178.2)" textLength="60" lengthAdjust="spacingAndGlyphs">CD10<tspan font-size="4" dy="-2.5">+</tspan><tspan dy="2.5">, CD38</tspan><tspan font-size="4" dy="-2.5">+</tspan><tspan dy="2.5"> cells</tspan></text>
<text x="183.5" y="286.3" font-size="7.0" fill="#444" stroke="#444" stroke-width="0.06" text-anchor="middle" textLength="94.3" lengthAdjust="spacingAndGlyphs">Cord blood - Relative cell counts</text>
<text x="74.3" y="299.3" font-size="6.6" fill="#404040" stroke="#404040" stroke-width="0.18" text-anchor="middle" textLength="20.4" lengthAdjust="spacingAndGlyphs">Day 14</text>
<text x="183.1" y="298.8" font-size="6.6" fill="#404040" stroke="#404040" stroke-width="0.18" text-anchor="middle" textLength="20" lengthAdjust="spacingAndGlyphs">Day 21</text>
<text x="317.6" y="299" font-size="6.6" fill="#404040" stroke="#404040" stroke-width="0.18" text-anchor="middle" textLength="20.6" lengthAdjust="spacingAndGlyphs">Day 28</text>
<text x="25.6" y="343.6" font-size="8.6" fill="#404040" stroke="#404040" stroke-width="0.18" text-anchor="middle" transform="rotate(-90 25.6 343.6)" textLength="72" lengthAdjust="spacingAndGlyphs">% of CD10<tspan font-size="4.2" dy="-2.6">+</tspan><tspan dy="2.6">, CD38</tspan><tspan font-size="4.2" dy="-2.6">+</tspan><tspan dy="2.6"> cells</tspan></text>
<line x1="47.3" y1="306.79999999999995" x2="47.3" y2="381.3" stroke="#222" stroke-width="1.1"/>
<line x1="46.8" y1="380.8" x2="100.2" y2="380.8" stroke="#222" stroke-width="1.1"/>
<line x1="44.9" y1="307.4" x2="47.3" y2="307.4" stroke="#222" stroke-width="0.9"/>
<text x="41.3" y="310.09999999999997" font-size="6.4" fill="#404040" stroke="#404040" stroke-width="0.18" text-anchor="end">100</text>
<line x1="44.9" y1="344.1" x2="47.3" y2="344.1" stroke="#222" stroke-width="0.9"/>
<text x="41.3" y="346.8" font-size="6.4" fill="#404040" stroke="#404040" stroke-width="0.18" text-anchor="end">50</text>
<line x1="44.9" y1="380.8" x2="47.3" y2="380.8" stroke="#222" stroke-width="0.9"/>
<text x="41.3" y="383.5" font-size="6.4" fill="#404040" stroke="#404040" stroke-width="0.18" text-anchor="end">0</text>
<line x1="45.8" y1="373.46000000000004" x2="47.3" y2="373.46000000000004" stroke="#333" stroke-width="0.7"/>
<line x1="45.8" y1="366.12" x2="47.3" y2="366.12" stroke="#333" stroke-width="0.7"/>
<line x1="45.8" y1="358.78" x2="47.3" y2="358.78" stroke="#333" stroke-width="0.7"/>
<line x1="45.8" y1="351.44" x2="47.3" y2="351.44" stroke="#333" stroke-width="0.7"/>
<line x1="45.8" y1="336.76" x2="47.3" y2="336.76" stroke="#333" stroke-width="0.7"/>
<line x1="45.8" y1="329.41999999999996" x2="47.3" y2="329.41999999999996" stroke="#333" stroke-width="0.7"/>
<line x1="45.8" y1="322.08" x2="47.3" y2="322.08" stroke="#333" stroke-width="0.7"/>
<line x1="45.8" y1="314.74" x2="47.3" y2="314.74" stroke="#333" stroke-width="0.7"/>
<rect x="50.10" y="354.58" width="3.80" height="26.22" fill="#53226a" stroke="#3c1250" stroke-width="0.45"/>
<rect x="57.20" y="348.70" width="4.05" height="32.10" fill="#e0117f" stroke="#b80c60" stroke-width="0.45"/>
<line x1="52.0" y1="354.376" x2="52.0" y2="343.8" stroke="#444" stroke-width="0.6"/>
<line x1="50.7" y1="343.8" x2="53.3" y2="343.8" stroke="#444" stroke-width="0.6"/>
<circle cx="51.56" cy="343.00" r="1.2" fill="#fff" stroke="#5a5a5a" stroke-width="0.6"/>
<circle cx="51.43" cy="362.70" r="1.2" fill="#fff" stroke="#5a5a5a" stroke-width="0.6"/>
<circle cx="52.64" cy="356.83" r="1.2" fill="#fff" stroke="#5a5a5a" stroke-width="0.6"/>
<circle cx="51.90" cy="348.50" r="1.2" fill="#fff" stroke="#5a5a5a" stroke-width="0.6"/>
<circle cx="52.11" cy="362.70" r="1.2" fill="#fff" stroke="#5a5a5a" stroke-width="0.6"/>
<circle cx="53.02" cy="350.60" r="1.2" fill="#fff" stroke="#5a5a5a" stroke-width="0.6"/>
<circle cx="52.93" cy="353.64" r="1.2" fill="#fff" stroke="#5a5a5a" stroke-width="0.6"/>
<circle cx="53.04" cy="357.70" r="1.2" fill="#fff" stroke="#5a5a5a" stroke-width="0.6"/>
<circle cx="50.95" cy="356.37" r="1.2" fill="#fff" stroke="#5a5a5a" stroke-width="0.6"/>
<circle cx="51.42" cy="346.71" r="1.2" fill="#fff" stroke="#5a5a5a" stroke-width="0.6"/>
<circle cx="51.56" cy="354.46" r="1.2" fill="#fff" stroke="#5a5a5a" stroke-width="0.6"/>
<circle cx="51.38" cy="353.83" r="1.2" fill="#fff" stroke="#5a5a5a" stroke-width="0.6"/>
<circle cx="51.08" cy="357.54" r="1.2" fill="#fff" stroke="#5a5a5a" stroke-width="0.6"/>
<circle cx="51.60" cy="352.97" r="1.2" fill="#fff" stroke="#5a5a5a" stroke-width="0.6"/>
<circle cx="52.85" cy="360.25" r="1.2" fill="#fff" stroke="#5a5a5a" stroke-width="0.6"/>
<circle cx="52.63" cy="351.29" r="1.2" fill="#fff" stroke="#5a5a5a" stroke-width="0.6"/>
<line x1="59.225" y1="348.504" x2="59.225" y2="335.8" stroke="#444" stroke-width="0.6"/>
<line x1="57.925000000000004" y1="335.8" x2="60.525" y2="335.8" stroke="#444" stroke-width="0.6"/>
<circle cx="59.22" cy="335.00" r="1.2" fill="#fff" stroke="#5a5a5a" stroke-width="0.6"/>
<circle cx="59.06" cy="366.60" r="1.2" fill="#fff" stroke="#5a5a5a" stroke-width="0.6"/>
<circle cx="59.90" cy="354.79" r="1.2" fill="#fff" stroke="#5a5a5a" stroke-width="0.6"/>
<circle cx="58.98" cy="335.93" r="1.2" fill="#fff" stroke="#5a5a5a" stroke-width="0.6"/>
<circle cx="59.89" cy="353.38" r="1.2" fill="#fff" stroke="#5a5a5a" stroke-width="0.6"/>
<circle cx="59.61" cy="347.05" r="1.2" fill="#fff" stroke="#5a5a5a" stroke-width="0.6"/>
<circle cx="59.63" cy="355.76" r="1.2" fill="#fff" stroke="#5a5a5a" stroke-width="0.6"/>
<circle cx="58.24" cy="366.01" r="1.2" fill="#fff" stroke="#5a5a5a" stroke-width="0.6"/>
<circle cx="59.29" cy="348.82" r="1.2" fill="#fff" stroke="#5a5a5a" stroke-width="0.6"/>
<circle cx="58.10" cy="336.63" r="1.2" fill="#fff" stroke="#5a5a5a" stroke-width="0.6"/>
<circle cx="60.18" cy="337.17" r="1.2" fill="#fff" stroke="#5a5a5a" stroke-width="0.6"/>
<circle cx="58.76" cy="335.00" r="1.2" fill="#fff" stroke="#5a5a5a" stroke-width="0.6"/>
<circle cx="59.28" cy="346.19" r="1.2" fill="#fff" stroke="#5a5a5a" stroke-width="0.6"/>
<circle cx="58.61" cy="344.49" r="1.2" fill="#fff" stroke="#5a5a5a" stroke-width="0.6"/>
<circle cx="59.15" cy="343.81" r="1.2" fill="#fff" stroke="#5a5a5a" stroke-width="0.6"/>
<circle cx="58.97" cy="347.77" r="1.2" fill="#fff" stroke="#5a5a5a" stroke-width="0.6"/>
<circle cx="60.21" cy="346.78" r="1.2" fill="#fff" stroke="#5a5a5a" stroke-width="0.6"/>
<circle cx="59.44" cy="364.55" r="1.2" fill="#fff" stroke="#5a5a5a" stroke-width="0.6"/>
<line x1="55.675" y1="380.8" x2="55.675" y2="383.8" stroke="#222" stroke-width="0.8"/>
<text x="59.38" y="389.6" font-size="6.5" fill="#474747" stroke="#474747" stroke-width="0.1" text-anchor="end" transform="rotate(-45 59.38 389.6)">CLP</text>
<line x1="49.9" y1="307.4" x2="61.45" y2="307.4" stroke="#333" stroke-width="1.0"/>
<text x="55.675" y="306.09999999999997" font-size="6.1" fill="#404040" stroke="#404040" stroke-width="0.18" text-anchor="middle">ns</text>
<rect x="68.85" y="340.19" width="3.80" height="40.61" fill="#53226a" stroke="#3c1250" stroke-width="0.45"/>
<rect x="75.95" y="345.18" width="4.05" height="35.62" fill="#e0117f" stroke="#b80c60" stroke-width="0.45"/>
<line x1="70.75" y1="339.9896" x2="70.75" y2="334.8" stroke="#444" stroke-width="0.6"/>
<line x1="69.45" y1="334.8" x2="72.05" y2="334.8" stroke="#444" stroke-width="0.6"/>
<circle cx="71.49" cy="334.00" r="1.2" fill="#fff" stroke="#5a5a5a" stroke-width="0.6"/>
<circle cx="69.82" cy="351.00" r="1.2" fill="#fff" stroke="#5a5a5a" stroke-width="0.6"/>
<circle cx="70.86" cy="337.28" r="1.2" fill="#fff" stroke="#5a5a5a" stroke-width="0.6"/>
<circle cx="70.54" cy="336.61" r="1.2" fill="#fff" stroke="#5a5a5a" stroke-width="0.6"/>
<circle cx="71.53" cy="334.66" r="1.2" fill="#fff" stroke="#5a5a5a" stroke-width="0.6"/>
<circle cx="69.99" cy="343.59" r="1.2" fill="#fff" stroke="#5a5a5a" stroke-width="0.6"/>
<circle cx="70.70" cy="340.66" r="1.2" fill="#fff" stroke="#5a5a5a" stroke-width="0.6"/>
<circle cx="71.19" cy="334.09" r="1.2" fill="#fff" stroke="#5a5a5a" stroke-width="0.6"/>
<circle cx="70.72" cy="340.34" r="1.2" fill="#fff" stroke="#5a5a5a" stroke-width="0.6"/>
<circle cx="71.50" cy="334.00" r="1.2" fill="#fff" stroke="#5a5a5a" stroke-width="0.6"/>
<circle cx="69.95" cy="340.69" r="1.2" fill="#fff" stroke="#5a5a5a" stroke-width="0.6"/>
<circle cx="70.27" cy="335.20" r="1.2" fill="#fff" stroke="#5a5a5a" stroke-width="0.6"/>
<circle cx="71.71" cy="339.61" r="1.2" fill="#fff" stroke="#5a5a5a" stroke-width="0.6"/>
<circle cx="69.87" cy="344.09" r="1.2" fill="#fff" stroke="#5a5a5a" stroke-width="0.6"/>
<circle cx="70.25" cy="339.96" r="1.2" fill="#fff" stroke="#5a5a5a" stroke-width="0.6"/>
<circle cx="71.18" cy="334.51" r="1.2" fill="#fff" stroke="#5a5a5a" stroke-width="0.6"/>
<line x1="77.975" y1="344.9808" x2="77.975" y2="327.8" stroke="#444" stroke-width="0.6"/>
<line x1="76.675" y1="327.8" x2="79.27499999999999" y2="327.8" stroke="#444" stroke-width="0.6"/>
<circle cx="77.40" cy="327.00" r="1.2" fill="#fff" stroke="#5a5a5a" stroke-width="0.6"/>
<circle cx="77.61" cy="355.00" r="1.2" fill="#fff" stroke="#5a5a5a" stroke-width="0.6"/>
<circle cx="79.10" cy="348.19" r="1.2" fill="#fff" stroke="#5a5a5a" stroke-width="0.6"/>
<circle cx="78.51" cy="330.37" r="1.2" fill="#fff" stroke="#5a5a5a" stroke-width="0.6"/>
<circle cx="78.85" cy="327.00" r="1.2" fill="#fff" stroke="#5a5a5a" stroke-width="0.6"/>
<circle cx="78.76" cy="347.93" r="1.2" fill="#fff" stroke="#5a5a5a" stroke-width="0.6"/>
<circle cx="77.74" cy="344.46" r="1.2" fill="#fff" stroke="#5a5a5a" stroke-width="0.6"/>
<circle cx="78.42" cy="330.13" r="1.2" fill="#fff" stroke="#5a5a5a" stroke-width="0.6"/>
<circle cx="78.85" cy="354.91" r="1.2" fill="#fff" stroke="#5a5a5a" stroke-width="0.6"/>
<circle cx="78.93" cy="342.69" r="1.2" fill="#fff" stroke="#5a5a5a" stroke-width="0.6"/>
<circle cx="78.56" cy="347.42" r="1.2" fill="#fff" stroke="#5a5a5a" stroke-width="0.6"/>
<circle cx="79.05" cy="348.30" r="1.2" fill="#fff" stroke="#5a5a5a" stroke-width="0.6"/>
<circle cx="78.51" cy="334.18" r="1.2" fill="#fff" stroke="#5a5a5a" stroke-width="0.6"/>
<circle cx="77.89" cy="338.69" r="1.2" fill="#fff" stroke="#5a5a5a" stroke-width="0.6"/>
<circle cx="79.05" cy="349.52" r="1.2" fill="#fff" stroke="#5a5a5a" stroke-width="0.6"/>
<circle cx="78.54" cy="334.08" r="1.2" fill="#fff" stroke="#5a5a5a" stroke-width="0.6"/>
<line x1="74.42500000000001" y1="380.8" x2="74.42500000000001" y2="383.8" stroke="#222" stroke-width="0.8"/>
<text x="78.13" y="389.6" font-size="6.5" fill="#474747" stroke="#474747" stroke-width="0.1" text-anchor="end" transform="rotate(-45 78.13 389.6)">pro-B</text>
<line x1="68.65" y1="307.4" x2="80.2" y2="307.4" stroke="#333" stroke-width="1.0"/>
<text x="74.42500000000001" y="306.09999999999997" font-size="6.1" fill="#404040" stroke="#404040" stroke-width="0.18" text-anchor="middle">ns</text>
<rect x="87.60" y="378.06" width="3.80" height="2.74" fill="#53226a" stroke="#3c1250" stroke-width="0.45"/>
<rect x="94.70" y="376.60" width="4.05" height="4.20" fill="#e0117f" stroke="#b80c60" stroke-width="0.45"/>
<line x1="89.5" y1="377.86400000000003" x2="89.5" y2="372.3" stroke="#444" stroke-width="0.6"/>
<line x1="88.2" y1="372.3" x2="90.8" y2="372.3" stroke="#444" stroke-width="0.6"/>
<circle cx="88.55" cy="371.50" r="1.2" fill="#fff" stroke="#5a5a5a" stroke-width="0.6"/>
<circle cx="89.28" cy="380.30" r="1.2" fill="#fff" stroke="#5a5a5a" stroke-width="0.6"/>
<circle cx="89.72" cy="378.84" r="1.2" fill="#fff" stroke="#5a5a5a" stroke-width="0.6"/>
<circle cx="89.12" cy="377.88" r="1.2" fill="#fff" stroke="#5a5a5a" stroke-width="0.6"/>
<circle cx="90.38" cy="377.06" r="1.2" fill="#fff" stroke="#5a5a5a" stroke-width="0.6"/>
<circle cx="89.89" cy="378.48" r="1.2" fill="#fff" stroke="#5a5a5a" stroke-width="0.6"/>
<circle cx="88.76" cy="375.17" r="1.2" fill="#fff" stroke="#5a5a5a" stroke-width="0.6"/>
<circle cx="89.70" cy="378.20" r="1.2" fill="#fff" stroke="#5a5a5a" stroke-width="0.6"/>
<circle cx="88.67" cy="377.86" r="1.2" fill="#fff" stroke="#5a5a5a" stroke-width="0.6"/>
<circle cx="89.51" cy="376.46" r="1.2" fill="#fff" stroke="#5a5a5a" stroke-width="0.6"/>
<circle cx="88.96" cy="379.38" r="1.2" fill="#fff" stroke="#5a5a5a" stroke-width="0.6"/>
<line x1="96.725" y1="376.396" x2="96.725" y2="368.3" stroke="#444" stroke-width="0.6"/>
<line x1="95.425" y1="368.3" x2="98.02499999999999" y2="368.3" stroke="#444" stroke-width="0.6"/>
<circle cx="95.68" cy="367.50" r="1.2" fill="#fff" stroke="#5a5a5a" stroke-width="0.6"/>
<circle cx="97.80" cy="380.00" r="1.2" fill="#fff" stroke="#5a5a5a" stroke-width="0.6"/>
<circle cx="97.51" cy="375.36" r="1.2" fill="#fff" stroke="#5a5a5a" stroke-width="0.6"/>
<circle cx="96.98" cy="370.58" r="1.2" fill="#fff" stroke="#5a5a5a" stroke-width="0.6"/>
<circle cx="96.51" cy="375.70" r="1.2" fill="#fff" stroke="#5a5a5a" stroke-width="0.6"/>
<circle cx="96.94" cy="375.15" r="1.2" fill="#fff" stroke="#5a5a5a" stroke-width="0.6"/>
<circle cx="96.34" cy="376.68" r="1.2" fill="#fff" stroke="#5a5a5a" stroke-width="0.6"/>
<circle cx="95.61" cy="378.46" r="1.2" fill="#fff" stroke="#5a5a5a" stroke-width="0.6"/>
<circle cx="96.24" cy="372.53" r="1.2" fill="#fff" stroke="#5a5a5a" stroke-width="0.6"/>
<line x1="93.17500000000001" y1="380.8" x2="93.17500000000001" y2="383.8" stroke="#222" stroke-width="0.8"/>
<text x="96.88" y="389.6" font-size="6.5" fill="#474747" stroke="#474747" stroke-width="0.1" text-anchor="end" transform="rotate(-45 96.88 389.6)">pre-BI</text>
<line x1="87.4" y1="307.4" x2="98.95" y2="307.4" stroke="#333" stroke-width="1.0"/>
<path d="M90.43,302.95V305.25M89.42,303.52L91.43,304.67M89.42,304.67L91.43,303.52" stroke="#222" stroke-width="0.62" fill="none"/>
<path d="M93.18,302.95V305.25M92.17,303.52L94.18,304.67M92.17,304.67L94.18,303.52" stroke="#222" stroke-width="0.62" fill="none"/>
<path d="M95.93,302.95V305.25M94.92,303.52L96.93,304.67M94.92,304.67L96.93,303.52" stroke="#222" stroke-width="0.62" fill="none"/>
<line x1="137.6" y1="306.79999999999995" x2="137.6" y2="381.3" stroke="#222" stroke-width="1.1"/>
<line x1="137.1" y1="380.8" x2="229" y2="380.8" stroke="#222" stroke-width="1.1"/>
<line x1="135.2" y1="307.4" x2="137.6" y2="307.4" stroke="#222" stroke-width="0.9"/>
<text x="131.6" y="310.09999999999997" font-size="6.4" fill="#404040" stroke="#404040" stroke-width="0.18" text-anchor="end">100</text>
<line x1="135.2" y1="344.1" x2="137.6" y2="344.1" stroke="#222" stroke-width="0.9"/>
<text x="131.6" y="346.8" font-size="6.4" fill="#404040" stroke="#404040" stroke-width="0.18" text-anchor="end">50</text>
<line x1="135.2" y1="380.8" x2="137.6" y2="380.8" stroke="#222" stroke-width="0.9"/>
<text x="131.6" y="383.5" font-size="6.4" fill="#404040" stroke="#404040" stroke-width="0.18" text-anchor="end">0</text>
<line x1="136.1" y1="373.46000000000004" x2="137.6" y2="373.46000000000004" stroke="#333" stroke-width="0.7"/>
<line x1="136.1" y1="366.12" x2="137.6" y2="366.12" stroke="#333" stroke-width="0.7"/>
<line x1="136.1" y1="358.78" x2="137.6" y2="358.78" stroke="#333" stroke-width="0.7"/>
<line x1="136.1" y1="351.44" x2="137.6" y2="351.44" stroke="#333" stroke-width="0.7"/>
<line x1="136.1" y1="336.76" x2="137.6" y2="336.76" stroke="#333" stroke-width="0.7"/>
<line x1="136.1" y1="329.41999999999996" x2="137.6" y2="329.41999999999996" stroke="#333" stroke-width="0.7"/>
<line x1="136.1" y1="322.08" x2="137.6" y2="322.08" stroke="#333" stroke-width="0.7"/>
<line x1="136.1" y1="314.74" x2="137.6" y2="314.74" stroke="#333" stroke-width="0.7"/>
<rect x="140.80" y="372.19" width="3.80" height="8.61" fill="#53226a" stroke="#3c1250" stroke-width="0.45"/>
<rect x="147.80" y="367.79" width="4.05" height="13.01" fill="#e0117f" stroke="#b80c60" stroke-width="0.45"/>
<line x1="142.7" y1="371.992" x2="142.7" y2="354.8" stroke="#444" stroke-width="0.6"/>
<line x1="141.39999999999998" y1="354.8" x2="144.0" y2="354.8" stroke="#444" stroke-width="0.6"/>
<circle cx="143.38" cy="354.00" r="1.2" fill="#fff" stroke="#5a5a5a" stroke-width="0.6"/>
<circle cx="143.73" cy="379.60" r="1.2" fill="#fff" stroke="#5a5a5a" stroke-width="0.6"/>
<circle cx="143.29" cy="367.66" r="1.2" fill="#fff" stroke="#5a5a5a" stroke-width="0.6"/>
<circle cx="142.41" cy="369.67" r="1.2" fill="#fff" stroke="#5a5a5a" stroke-width="0.6"/>
<circle cx="142.86" cy="373.84" r="1.2" fill="#fff" stroke="#5a5a5a" stroke-width="0.6"/>
<circle cx="143.37" cy="366.47" r="1.2" fill="#fff" stroke="#5a5a5a" stroke-width="0.6"/>
<circle cx="142.47" cy="377.69" r="1.2" fill="#fff" stroke="#5a5a5a" stroke-width="0.6"/>
<circle cx="142.23" cy="372.64" r="1.2" fill="#fff" stroke="#5a5a5a" stroke-width="0.6"/>
<circle cx="142.58" cy="374.11" r="1.2" fill="#fff" stroke="#5a5a5a" stroke-width="0.6"/>
<circle cx="142.26" cy="370.81" r="1.2" fill="#fff" stroke="#5a5a5a" stroke-width="0.6"/>
<circle cx="143.60" cy="374.12" r="1.2" fill="#fff" stroke="#5a5a5a" stroke-width="0.6"/>
<circle cx="142.40" cy="374.37" r="1.2" fill="#fff" stroke="#5a5a5a" stroke-width="0.6"/>
<circle cx="142.32" cy="377.44" r="1.2" fill="#fff" stroke="#5a5a5a" stroke-width="0.6"/>
<circle cx="141.97" cy="369.06" r="1.2" fill="#fff" stroke="#5a5a5a" stroke-width="0.6"/>
<circle cx="143.31" cy="372.68" r="1.2" fill="#fff" stroke="#5a5a5a" stroke-width="0.6"/>
<circle cx="143.60" cy="372.37" r="1.2" fill="#fff" stroke="#5a5a5a" stroke-width="0.6"/>
<line x1="149.825" y1="367.588" x2="149.825" y2="354.8" stroke="#444" stroke-width="0.6"/>
<line x1="148.52499999999998" y1="354.8" x2="151.125" y2="354.8" stroke="#444" stroke-width="0.6"/>
<circle cx="150.15" cy="354.00" r="1.2" fill="#fff" stroke="#5a5a5a" stroke-width="0.6"/>
<circle cx="150.12" cy="378.20" r="1.2" fill="#fff" stroke="#5a5a5a" stroke-width="0.6"/>
<circle cx="149.45" cy="368.21" r="1.2" fill="#fff" stroke="#5a5a5a" stroke-width="0.6"/>
<circle cx="149.51" cy="378.20" r="1.2" fill="#fff" stroke="#5a5a5a" stroke-width="0.6"/>
<circle cx="150.85" cy="366.46" r="1.2" fill="#fff" stroke="#5a5a5a" stroke-width="0.6"/>
<circle cx="149.73" cy="362.07" r="1.2" fill="#fff" stroke="#5a5a5a" stroke-width="0.6"/>
<circle cx="150.42" cy="366.74" r="1.2" fill="#fff" stroke="#5a5a5a" stroke-width="0.6"/>
<circle cx="149.17" cy="368.46" r="1.2" fill="#fff" stroke="#5a5a5a" stroke-width="0.6"/>
<circle cx="149.75" cy="358.85" r="1.2" fill="#fff" stroke="#5a5a5a" stroke-width="0.6"/>
<circle cx="150.86" cy="370.03" r="1.2" fill="#fff" stroke="#5a5a5a" stroke-width="0.6"/>
<circle cx="148.91" cy="363.11" r="1.2" fill="#fff" stroke="#5a5a5a" stroke-width="0.6"/>
<circle cx="148.74" cy="371.11" r="1.2" fill="#fff" stroke="#5a5a5a" stroke-width="0.6"/>
<circle cx="148.94" cy="373.39" r="1.2" fill="#fff" stroke="#5a5a5a" stroke-width="0.6"/>
<circle cx="149.82" cy="372.92" r="1.2" fill="#fff" stroke="#5a5a5a" stroke-width="0.6"/>
<circle cx="148.76" cy="373.91" r="1.2" fill="#fff" stroke="#5a5a5a" stroke-width="0.6"/>
<circle cx="150.46" cy="376.29" r="1.2" fill="#fff" stroke="#5a5a5a" stroke-width="0.6"/>
<line x1="146.325" y1="380.8" x2="146.325" y2="383.8" stroke="#222" stroke-width="0.8"/>
<text x="150.02" y="389.6" font-size="6.5" fill="#474747" stroke="#474747" stroke-width="0.1" text-anchor="end" transform="rotate(-45 150.02 389.6)">CLP</text>
<line x1="140.6" y1="307.4" x2="152.04999999999998" y2="307.4" stroke="#333" stroke-width="1.0"/>
<path d="M146.32,302.95V305.25M145.32,303.52L147.33,304.67M145.32,304.67L147.33,303.52" stroke="#222" stroke-width="0.62" fill="none"/>
<rect x="159.60" y="369.26" width="3.80" height="11.54" fill="#53226a" stroke="#3c1250" stroke-width="0.45"/>
<rect x="166.60" y="342.83" width="4.05" height="37.97" fill="#e0117f" stroke="#b80c60" stroke-width="0.45"/>
<line x1="161.5" y1="369.056" x2="161.5" y2="358.8" stroke="#444" stroke-width="0.6"/>
<line x1="160.2" y1="358.8" x2="162.8" y2="358.8" stroke="#444" stroke-width="0.6"/>
<circle cx="161.51" cy="358.00" r="1.2" fill="#fff" stroke="#5a5a5a" stroke-width="0.6"/>
<circle cx="160.74" cy="379.60" r="1.2" fill="#fff" stroke="#5a5a5a" stroke-width="0.6"/>
<circle cx="161.95" cy="363.21" r="1.2" fill="#fff" stroke="#5a5a5a" stroke-width="0.6"/>
<circle cx="160.74" cy="376.91" r="1.2" fill="#fff" stroke="#5a5a5a" stroke-width="0.6"/>
<circle cx="160.44" cy="377.17" r="1.2" fill="#fff" stroke="#5a5a5a" stroke-width="0.6"/>
<circle cx="161.83" cy="362.03" r="1.2" fill="#fff" stroke="#5a5a5a" stroke-width="0.6"/>
<circle cx="161.08" cy="367.48" r="1.2" fill="#fff" stroke="#5a5a5a" stroke-width="0.6"/>
<circle cx="161.83" cy="370.55" r="1.2" fill="#fff" stroke="#5a5a5a" stroke-width="0.6"/>
<circle cx="161.93" cy="372.75" r="1.2" fill="#fff" stroke="#5a5a5a" stroke-width="0.6"/>
<circle cx="160.89" cy="372.05" r="1.2" fill="#fff" stroke="#5a5a5a" stroke-width="0.6"/>
<circle cx="161.80" cy="374.02" r="1.2" fill="#fff" stroke="#5a5a5a" stroke-width="0.6"/>
<circle cx="160.44" cy="364.06" r="1.2" fill="#fff" stroke="#5a5a5a" stroke-width="0.6"/>
<circle cx="160.75" cy="375.80" r="1.2" fill="#fff" stroke="#5a5a5a" stroke-width="0.6"/>
<circle cx="161.56" cy="372.20" r="1.2" fill="#fff" stroke="#5a5a5a" stroke-width="0.6"/>
<circle cx="161.37" cy="374.81" r="1.2" fill="#fff" stroke="#5a5a5a" stroke-width="0.6"/>
<circle cx="160.58" cy="364.69" r="1.2" fill="#fff" stroke="#5a5a5a" stroke-width="0.6"/>
<line x1="168.625" y1="342.632" x2="168.625" y2="337.5" stroke="#444" stroke-width="0.6"/>
<line x1="167.325" y1="337.5" x2="169.925" y2="337.5" stroke="#444" stroke-width="0.6"/>
<circle cx="167.87" cy="336.70" r="1.2" fill="#fff" stroke="#5a5a5a" stroke-width="0.6"/>
<circle cx="168.29" cy="355.40" r="1.2" fill="#fff" stroke="#5a5a5a" stroke-width="0.6"/>
<circle cx="169.53" cy="344.07" r="1.2" fill="#fff" stroke="#5a5a5a" stroke-width="0.6"/>
<circle cx="167.52" cy="346.40" r="1.2" fill="#fff" stroke="#5a5a5a" stroke-width="0.6"/>
<circle cx="167.54" cy="344.35" r="1.2" fill="#fff" stroke="#5a5a5a" stroke-width="0.6"/>
<circle cx="167.55" cy="336.70" r="1.2" fill="#fff" stroke="#5a5a5a" stroke-width="0.6"/>
<circle cx="168.44" cy="336.70" r="1.2" fill="#fff" stroke="#5a5a5a" stroke-width="0.6"/>
<circle cx="169.15" cy="339.11" r="1.2" fill="#fff" stroke="#5a5a5a" stroke-width="0.6"/>
<circle cx="168.95" cy="349.66" r="1.2" fill="#fff" stroke="#5a5a5a" stroke-width="0.6"/>
<circle cx="168.33" cy="336.70" r="1.2" fill="#fff" stroke="#5a5a5a" stroke-width="0.6"/>
<circle cx="168.56" cy="342.74" r="1.2" fill="#fff" stroke="#5a5a5a" stroke-width="0.6"/>
<circle cx="169.39" cy="336.70" r="1.2" fill="#fff" stroke="#5a5a5a" stroke-width="0.6"/>
<circle cx="169.11" cy="336.72" r="1.2" fill="#fff" stroke="#5a5a5a" stroke-width="0.6"/>
<circle cx="169.49" cy="345.82" r="1.2" fill="#fff" stroke="#5a5a5a" stroke-width="0.6"/>
<circle cx="169.57" cy="348.41" r="1.2" fill="#fff" stroke="#5a5a5a" stroke-width="0.6"/>
<circle cx="167.65" cy="349.19" r="1.2" fill="#fff" stroke="#5a5a5a" stroke-width="0.6"/>
<line x1="165.125" y1="380.8" x2="165.125" y2="383.8" stroke="#222" stroke-width="0.8"/>
<text x="168.82" y="389.6" font-size="6.5" fill="#474747" stroke="#474747" stroke-width="0.1" text-anchor="end" transform="rotate(-45 168.82 389.6)">pro-B</text>
<line x1="159.4" y1="307.4" x2="170.85" y2="307.4" stroke="#333" stroke-width="1.0"/>
<path d="M161.00,302.95V305.25M160.00,303.52L162.00,304.67M160.00,304.67L162.00,303.52" stroke="#222" stroke-width="0.62" fill="none"/>
<path d="M163.75,302.95V305.25M162.75,303.52L164.75,304.67M162.75,304.67L164.75,303.52" stroke="#222" stroke-width="0.62" fill="none"/>
<path d="M166.50,302.95V305.25M165.50,303.52L167.50,304.67M165.50,304.67L167.50,303.52" stroke="#222" stroke-width="0.62" fill="none"/>
<path d="M169.25,302.95V305.25M168.25,303.52L170.25,304.67M168.25,304.67L170.25,303.52" stroke="#222" stroke-width="0.62" fill="none"/>
<rect x="178.40" y="327.42" width="3.80" height="53.38" fill="#53226a" stroke="#3c1250" stroke-width="0.45"/>
<rect x="185.40" y="366.32" width="4.05" height="14.48" fill="#e0117f" stroke="#b80c60" stroke-width="0.45"/>
<line x1="180.29999999999998" y1="327.21799999999996" x2="180.29999999999998" y2="318.7" stroke="#444" stroke-width="0.6"/>
<line x1="178.99999999999997" y1="318.7" x2="181.6" y2="318.7" stroke="#444" stroke-width="0.6"/>
<circle cx="180.21" cy="317.90" r="1.2" fill="#fff" stroke="#5a5a5a" stroke-width="0.6"/>
<circle cx="180.46" cy="355.40" r="1.2" fill="#fff" stroke="#5a5a5a" stroke-width="0.6"/>
<circle cx="179.59" cy="332.58" r="1.2" fill="#fff" stroke="#5a5a5a" stroke-width="0.6"/>
<circle cx="179.50" cy="317.90" r="1.2" fill="#fff" stroke="#5a5a5a" stroke-width="0.6"/>
<circle cx="180.57" cy="326.84" r="1.2" fill="#fff" stroke="#5a5a5a" stroke-width="0.6"/>
<circle cx="181.40" cy="317.90" r="1.2" fill="#fff" stroke="#5a5a5a" stroke-width="0.6"/>
<circle cx="179.91" cy="319.63" r="1.2" fill="#fff" stroke="#5a5a5a" stroke-width="0.6"/>
<circle cx="179.23" cy="324.96" r="1.2" fill="#fff" stroke="#5a5a5a" stroke-width="0.6"/>
<circle cx="180.33" cy="330.52" r="1.2" fill="#fff" stroke="#5a5a5a" stroke-width="0.6"/>
<circle cx="179.49" cy="318.22" r="1.2" fill="#fff" stroke="#5a5a5a" stroke-width="0.6"/>
<circle cx="179.28" cy="335.78" r="1.2" fill="#fff" stroke="#5a5a5a" stroke-width="0.6"/>
<circle cx="180.82" cy="322.63" r="1.2" fill="#fff" stroke="#5a5a5a" stroke-width="0.6"/>
<circle cx="180.69" cy="327.49" r="1.2" fill="#fff" stroke="#5a5a5a" stroke-width="0.6"/>
<circle cx="179.53" cy="323.31" r="1.2" fill="#fff" stroke="#5a5a5a" stroke-width="0.6"/>
<circle cx="181.32" cy="332.49" r="1.2" fill="#fff" stroke="#5a5a5a" stroke-width="0.6"/>
<circle cx="179.31" cy="347.72" r="1.2" fill="#fff" stroke="#5a5a5a" stroke-width="0.6"/>
<circle cx="179.55" cy="334.97" r="1.2" fill="#fff" stroke="#5a5a5a" stroke-width="0.6"/>
<circle cx="180.84" cy="332.72" r="1.2" fill="#fff" stroke="#5a5a5a" stroke-width="0.6"/>
<line x1="187.42499999999998" y1="366.12" x2="187.42499999999998" y2="346.8" stroke="#444" stroke-width="0.6"/>
<line x1="186.12499999999997" y1="346.8" x2="188.725" y2="346.8" stroke="#444" stroke-width="0.6"/>
<circle cx="186.62" cy="346.00" r="1.2" fill="#fff" stroke="#5a5a5a" stroke-width="0.6"/>
<circle cx="188.22" cy="372.90" r="1.2" fill="#fff" stroke="#5a5a5a" stroke-width="0.6"/>
<circle cx="186.95" cy="364.13" r="1.2" fill="#fff" stroke="#5a5a5a" stroke-width="0.6"/>
<circle cx="188.10" cy="372.90" r="1.2" fill="#fff" stroke="#5a5a5a" stroke-width="0.6"/>
<circle cx="188.48" cy="364.66" r="1.2" fill="#fff" stroke="#5a5a5a" stroke-width="0.6"/>
<circle cx="188.21" cy="364.25" r="1.2" fill="#fff" stroke="#5a5a5a" stroke-width="0.6"/>
<circle cx="187.94" cy="359.25" r="1.2" fill="#fff" stroke="#5a5a5a" stroke-width="0.6"/>
<circle cx="187.99" cy="370.83" r="1.2" fill="#fff" stroke="#5a5a5a" stroke-width="0.6"/>
<circle cx="188.42" cy="372.90" r="1.2" fill="#fff" stroke="#5a5a5a" stroke-width="0.6"/>
<circle cx="186.85" cy="351.31" r="1.2" fill="#fff" stroke="#5a5a5a" stroke-width="0.6"/>
<circle cx="186.76" cy="371.53" r="1.2" fill="#fff" stroke="#5a5a5a" stroke-width="0.6"/>
<circle cx="188.03" cy="366.80" r="1.2" fill="#fff" stroke="#5a5a5a" stroke-width="0.6"/>
<circle cx="188.25" cy="368.57" r="1.2" fill="#fff" stroke="#5a5a5a" stroke-width="0.6"/>
<circle cx="188.06" cy="347.81" r="1.2" fill="#fff" stroke="#5a5a5a" stroke-width="0.6"/>
<circle cx="187.15" cy="372.90" r="1.2" fill="#fff" stroke="#5a5a5a" stroke-width="0.6"/>
<circle cx="188.11" cy="365.51" r="1.2" fill="#fff" stroke="#5a5a5a" stroke-width="0.6"/>
<circle cx="186.84" cy="368.67" r="1.2" fill="#fff" stroke="#5a5a5a" stroke-width="0.6"/>
<circle cx="186.70" cy="360.89" r="1.2" fill="#fff" stroke="#5a5a5a" stroke-width="0.6"/>
<line x1="183.92499999999998" y1="380.8" x2="183.92499999999998" y2="383.8" stroke="#222" stroke-width="0.8"/>
<text x="187.62" y="389.6" font-size="6.5" fill="#474747" stroke="#474747" stroke-width="0.1" text-anchor="end" transform="rotate(-45 187.62 389.6)">pre-BI</text>
<line x1="178.2" y1="307.4" x2="189.64999999999998" y2="307.4" stroke="#333" stroke-width="1.0"/>
<path d="M179.80,302.95V305.25M178.80,303.52L180.80,304.67M178.80,304.67L180.80,303.52" stroke="#222" stroke-width="0.62" fill="none"/>
<path d="M182.55,302.95V305.25M181.55,303.52L183.55,304.67M181.55,304.67L183.55,303.52" stroke="#222" stroke-width="0.62" fill="none"/>
<path d="M185.30,302.95V305.25M184.30,303.52L186.30,304.67M184.30,304.67L186.30,303.52" stroke="#222" stroke-width="0.62" fill="none"/>
<path d="M188.05,302.95V305.25M187.05,303.52L189.05,304.67M187.05,304.67L189.05,303.52" stroke="#222" stroke-width="0.62" fill="none"/>
<rect x="197.20" y="380.27" width="3.80" height="0.53" fill="#53226a" stroke="#3c1250" stroke-width="0.45"/>
<rect x="204.20" y="378.80" width="4.05" height="2.00" fill="#e0117f" stroke="#b80c60" stroke-width="0.45"/>
<line x1="199.1" y1="380.06600000000003" x2="199.1" y2="379.3" stroke="#444" stroke-width="0.6"/>
<line x1="197.79999999999998" y1="379.3" x2="200.4" y2="379.3" stroke="#444" stroke-width="0.6"/>
<circle cx="199.69" cy="378.50" r="1.2" fill="#fff" stroke="#5a5a5a" stroke-width="0.6"/>
<circle cx="199.08" cy="380.50" r="1.2" fill="#fff" stroke="#5a5a5a" stroke-width="0.6"/>
<circle cx="198.57" cy="379.30" r="1.2" fill="#fff" stroke="#5a5a5a" stroke-width="0.6"/>
<circle cx="198.49" cy="380.50" r="1.2" fill="#fff" stroke="#5a5a5a" stroke-width="0.6"/>
<circle cx="199.78" cy="378.53" r="1.2" fill="#fff" stroke="#5a5a5a" stroke-width="0.6"/>
<line x1="206.225" y1="378.598" x2="206.225" y2="374.8" stroke="#444" stroke-width="0.6"/>
<line x1="204.92499999999998" y1="374.8" x2="207.525" y2="374.8" stroke="#444" stroke-width="0.6"/>
<circle cx="206.18" cy="374.00" r="1.2" fill="#fff" stroke="#5a5a5a" stroke-width="0.6"/>
<circle cx="206.50" cy="380.00" r="1.2" fill="#fff" stroke="#5a5a5a" stroke-width="0.6"/>
<circle cx="205.63" cy="380.00" r="1.2" fill="#fff" stroke="#5a5a5a" stroke-width="0.6"/>
<circle cx="205.90" cy="378.02" r="1.2" fill="#fff" stroke="#5a5a5a" stroke-width="0.6"/>
<circle cx="207.12" cy="380.00" r="1.2" fill="#fff" stroke="#5a5a5a" stroke-width="0.6"/>
<circle cx="205.93" cy="377.76" r="1.2" fill="#fff" stroke="#5a5a5a" stroke-width="0.6"/>
<circle cx="205.36" cy="377.50" r="1.2" fill="#fff" stroke="#5a5a5a" stroke-width="0.6"/>
<circle cx="206.94" cy="375.33" r="1.2" fill="#fff" stroke="#5a5a5a" stroke-width="0.6"/>
<line x1="202.725" y1="380.8" x2="202.725" y2="383.8" stroke="#222" stroke-width="0.8"/>
<text x="206.42" y="389.6" font-size="6.5" fill="#474747" stroke="#474747" stroke-width="0.1" text-anchor="end" transform="rotate(-45 206.42 389.6)">pre-BII large</text>
<line x1="197.0" y1="307.4" x2="208.45" y2="307.4" stroke="#333" stroke-width="1.0"/>
<path d="M198.60,302.95V305.25M197.60,303.52L199.60,304.67M197.60,304.67L199.60,303.52" stroke="#222" stroke-width="0.62" fill="none"/>
<path d="M201.35,302.95V305.25M200.35,303.52L202.35,304.67M200.35,304.67L202.35,303.52" stroke="#222" stroke-width="0.62" fill="none"/>
<path d="M204.10,302.95V305.25M203.10,303.52L205.10,304.67M203.10,304.67L205.10,303.52" stroke="#222" stroke-width="0.62" fill="none"/>
<path d="M206.85,302.95V305.25M205.85,303.52L207.85,304.67M205.85,304.67L207.85,303.52" stroke="#222" stroke-width="0.62" fill="none"/>
<rect x="216.00" y="380.63" width="3.80" height="0.17" fill="#53226a" stroke="#3c1250" stroke-width="0.45"/>
<rect x="223.00" y="380.27" width="4.05" height="0.53" fill="#e0117f" stroke="#b80c60" stroke-width="0.45"/>
<line x1="217.9" y1="380.433" x2="217.9" y2="379.8" stroke="#444" stroke-width="0.6"/>
<line x1="216.6" y1="379.8" x2="219.20000000000002" y2="379.8" stroke="#444" stroke-width="0.6"/>
<circle cx="218.00" cy="379.00" r="1.2" fill="#fff" stroke="#5a5a5a" stroke-width="0.6"/>
<circle cx="218.28" cy="380.50" r="1.2" fill="#fff" stroke="#5a5a5a" stroke-width="0.6"/>
<circle cx="217.59" cy="379.97" r="1.2" fill="#fff" stroke="#5a5a5a" stroke-width="0.6"/>
<circle cx="216.94" cy="380.45" r="1.2" fill="#fff" stroke="#5a5a5a" stroke-width="0.6"/>
<line x1="225.025" y1="380.06600000000003" x2="225.025" y2="377.8" stroke="#444" stroke-width="0.6"/>
<line x1="223.725" y1="377.8" x2="226.32500000000002" y2="377.8" stroke="#444" stroke-width="0.6"/>
<circle cx="225.50" cy="377.00" r="1.2" fill="#fff" stroke="#5a5a5a" stroke-width="0.6"/>
<circle cx="225.98" cy="380.50" r="1.2" fill="#fff" stroke="#5a5a5a" stroke-width="0.6"/>
<circle cx="224.18" cy="380.21" r="1.2" fill="#fff" stroke="#5a5a5a" stroke-width="0.6"/>
<circle cx="225.21" cy="380.50" r="1.2" fill="#fff" stroke="#5a5a5a" stroke-width="0.6"/>
<circle cx="225.39" cy="378.64" r="1.2" fill="#fff" stroke="#5a5a5a" stroke-width="0.6"/>
<line x1="221.525" y1="380.8" x2="221.525" y2="383.8" stroke="#222" stroke-width="0.8"/>
<text x="225.22" y="389.6" font-size="6.5" fill="#474747" stroke="#474747" stroke-width="0.1" text-anchor="end" transform="rotate(-45 225.22 389.6)">pre-BII small</text>
<line x1="215.8" y1="307.4" x2="227.25" y2="307.4" stroke="#333" stroke-width="1.0"/>
<path d="M217.40,302.95V305.25M216.40,303.52L218.40,304.67M216.40,304.67L218.40,303.52" stroke="#222" stroke-width="0.62" fill="none"/>
<path d="M220.15,302.95V305.25M219.15,303.52L221.15,304.67M219.15,304.67L221.15,303.52" stroke="#222" stroke-width="0.62" fill="none"/>
<path d="M222.90,302.95V305.25M221.90,303.52L223.90,304.67M221.90,304.67L223.90,303.52" stroke="#222" stroke-width="0.62" fill="none"/>
<path d="M225.65,302.95V305.25M224.65,303.52L226.65,304.67M224.65,304.67L226.65,303.52" stroke="#222" stroke-width="0.62" fill="none"/>
<line x1="261.5" y1="306.79999999999995" x2="261.5" y2="381.3" stroke="#222" stroke-width="1.1"/>
<line x1="261.0" y1="380.8" x2="372.5" y2="380.8" stroke="#222" stroke-width="1.1"/>
<line x1="259.1" y1="307.4" x2="261.5" y2="307.4" stroke="#222" stroke-width="0.9"/>
<text x="255.5" y="310.09999999999997" font-size="6.4" fill="#404040" stroke="#404040" stroke-width="0.18" text-anchor="end">100</text>
<line x1="259.1" y1="344.1" x2="261.5" y2="344.1" stroke="#222" stroke-width="0.9"/>
<text x="255.5" y="346.8" font-size="6.4" fill="#404040" stroke="#404040" stroke-width="0.18" text-anchor="end">50</text>
<line x1="259.1" y1="380.8" x2="261.5" y2="380.8" stroke="#222" stroke-width="0.9"/>
<text x="255.5" y="383.5" font-size="6.4" fill="#404040" stroke="#404040" stroke-width="0.18" text-anchor="end">0</text>
<line x1="260.0" y1="373.46000000000004" x2="261.5" y2="373.46000000000004" stroke="#333" stroke-width="0.7"/>
<line x1="260.0" y1="366.12" x2="261.5" y2="366.12" stroke="#333" stroke-width="0.7"/>
<line x1="260.0" y1="358.78" x2="261.5" y2="358.78" stroke="#333" stroke-width="0.7"/>
<line x1="260.0" y1="351.44" x2="261.5" y2="351.44" stroke="#333" stroke-width="0.7"/>
<line x1="260.0" y1="336.76" x2="261.5" y2="336.76" stroke="#333" stroke-width="0.7"/>
<line x1="260.0" y1="329.41999999999996" x2="261.5" y2="329.41999999999996" stroke="#333" stroke-width="0.7"/>
<line x1="260.0" y1="322.08" x2="261.5" y2="322.08" stroke="#333" stroke-width="0.7"/>
<line x1="260.0" y1="314.74" x2="261.5" y2="314.74" stroke="#333" stroke-width="0.7"/>
<rect x="264.90" y="379.90" width="3.80" height="0.90" fill="#53226a" stroke="#3c1250" stroke-width="0.45"/>
<rect x="271.90" y="378.80" width="4.05" height="2.00" fill="#e0117f" stroke="#b80c60" stroke-width="0.45"/>
<line x1="266.8" y1="379.699" x2="266.8" y2="378.8" stroke="#444" stroke-width="0.6"/>
<line x1="265.5" y1="378.8" x2="268.1" y2="378.8" stroke="#444" stroke-width="0.6"/>
<circle cx="267.81" cy="378.00" r="1.2" fill="#fff" stroke="#5a5a5a" stroke-width="0.6"/>
<circle cx="266.44" cy="380.70" r="1.2" fill="#fff" stroke="#5a5a5a" stroke-width="0.6"/>
<circle cx="267.79" cy="378.00" r="1.2" fill="#fff" stroke="#5a5a5a" stroke-width="0.6"/>
<circle cx="266.55" cy="380.63" r="1.2" fill="#fff" stroke="#5a5a5a" stroke-width="0.6"/>
<circle cx="267.24" cy="378.00" r="1.2" fill="#fff" stroke="#5a5a5a" stroke-width="0.6"/>
<line x1="273.925" y1="378.598" x2="273.925" y2="376.1" stroke="#444" stroke-width="0.6"/>
<line x1="272.625" y1="376.1" x2="275.225" y2="376.1" stroke="#444" stroke-width="0.6"/>
<circle cx="273.22" cy="375.30" r="1.2" fill="#fff" stroke="#5a5a5a" stroke-width="0.6"/>
<circle cx="274.08" cy="380.70" r="1.2" fill="#fff" stroke="#5a5a5a" stroke-width="0.6"/>
<circle cx="274.45" cy="378.53" r="1.2" fill="#fff" stroke="#5a5a5a" stroke-width="0.6"/>
<circle cx="273.92" cy="377.95" r="1.2" fill="#fff" stroke="#5a5a5a" stroke-width="0.6"/>
<circle cx="273.60" cy="380.29" r="1.2" fill="#fff" stroke="#5a5a5a" stroke-width="0.6"/>
<circle cx="274.31" cy="376.71" r="1.2" fill="#fff" stroke="#5a5a5a" stroke-width="0.6"/>
<circle cx="274.31" cy="377.24" r="1.2" fill="#fff" stroke="#5a5a5a" stroke-width="0.6"/>
<line x1="270.425" y1="380.8" x2="270.425" y2="383.8" stroke="#222" stroke-width="0.8"/>
<text x="274.12" y="389.6" font-size="6.5" fill="#474747" stroke="#474747" stroke-width="0.1" text-anchor="end" transform="rotate(-45 274.12 389.6)">CLP</text>
<line x1="264.7" y1="307.4" x2="276.15" y2="307.4" stroke="#333" stroke-width="1.0"/>
<path d="M266.30,302.95V305.25M265.30,303.52L267.30,304.67M265.30,304.67L267.30,303.52" stroke="#222" stroke-width="0.62" fill="none"/>
<path d="M269.05,302.95V305.25M268.05,303.52L270.05,304.67M268.05,304.67L270.05,303.52" stroke="#222" stroke-width="0.62" fill="none"/>
<path d="M271.80,302.95V305.25M270.80,303.52L272.80,304.67M270.80,304.67L272.80,303.52" stroke="#222" stroke-width="0.62" fill="none"/>
<path d="M274.55,302.95V305.25M273.55,303.52L275.55,304.67M273.55,304.67L275.55,303.52" stroke="#222" stroke-width="0.62" fill="none"/>
<rect x="283.55" y="377.33" width="3.80" height="3.47" fill="#53226a" stroke="#3c1250" stroke-width="0.45"/>
<rect x="290.55" y="363.38" width="4.05" height="17.42" fill="#e0117f" stroke="#b80c60" stroke-width="0.45"/>
<line x1="285.45" y1="377.13" x2="285.45" y2="372.1" stroke="#444" stroke-width="0.6"/>
<line x1="284.15" y1="372.1" x2="286.75" y2="372.1" stroke="#444" stroke-width="0.6"/>
<circle cx="285.22" cy="371.30" r="1.2" fill="#fff" stroke="#5a5a5a" stroke-width="0.6"/>
<circle cx="285.07" cy="380.70" r="1.2" fill="#fff" stroke="#5a5a5a" stroke-width="0.6"/>
<circle cx="285.68" cy="376.89" r="1.2" fill="#fff" stroke="#5a5a5a" stroke-width="0.6"/>
<circle cx="285.17" cy="374.52" r="1.2" fill="#fff" stroke="#5a5a5a" stroke-width="0.6"/>
<circle cx="286.56" cy="377.80" r="1.2" fill="#fff" stroke="#5a5a5a" stroke-width="0.6"/>
<circle cx="285.11" cy="374.27" r="1.2" fill="#fff" stroke="#5a5a5a" stroke-width="0.6"/>
<circle cx="286.00" cy="374.71" r="1.2" fill="#fff" stroke="#5a5a5a" stroke-width="0.6"/>
<circle cx="285.02" cy="377.87" r="1.2" fill="#fff" stroke="#5a5a5a" stroke-width="0.6"/>
<circle cx="284.61" cy="377.25" r="1.2" fill="#fff" stroke="#5a5a5a" stroke-width="0.6"/>
<line x1="292.575" y1="363.184" x2="292.575" y2="347.8" stroke="#444" stroke-width="0.6"/>
<line x1="291.275" y1="347.8" x2="293.875" y2="347.8" stroke="#444" stroke-width="0.6"/>
<circle cx="291.80" cy="347.00" r="1.2" fill="#fff" stroke="#5a5a5a" stroke-width="0.6"/>
<circle cx="292.73" cy="371.30" r="1.2" fill="#fff" stroke="#5a5a5a" stroke-width="0.6"/>
<circle cx="292.62" cy="355.67" r="1.2" fill="#fff" stroke="#5a5a5a" stroke-width="0.6"/>
<circle cx="291.53" cy="365.87" r="1.2" fill="#fff" stroke="#5a5a5a" stroke-width="0.6"/>
<circle cx="292.97" cy="365.09" r="1.2" fill="#fff" stroke="#5a5a5a" stroke-width="0.6"/>
<circle cx="292.50" cy="364.20" r="1.2" fill="#fff" stroke="#5a5a5a" stroke-width="0.6"/>
<circle cx="293.12" cy="368.11" r="1.2" fill="#fff" stroke="#5a5a5a" stroke-width="0.6"/>
<circle cx="293.50" cy="359.37" r="1.2" fill="#fff" stroke="#5a5a5a" stroke-width="0.6"/>
<circle cx="292.53" cy="363.33" r="1.2" fill="#fff" stroke="#5a5a5a" stroke-width="0.6"/>
<circle cx="293.00" cy="371.30" r="1.2" fill="#fff" stroke="#5a5a5a" stroke-width="0.6"/>
<circle cx="291.58" cy="363.94" r="1.2" fill="#fff" stroke="#5a5a5a" stroke-width="0.6"/>
<circle cx="293.49" cy="362.63" r="1.2" fill="#fff" stroke="#5a5a5a" stroke-width="0.6"/>
<circle cx="293.16" cy="369.47" r="1.2" fill="#fff" stroke="#5a5a5a" stroke-width="0.6"/>
<circle cx="292.14" cy="371.30" r="1.2" fill="#fff" stroke="#5a5a5a" stroke-width="0.6"/>
<circle cx="291.43" cy="371.30" r="1.2" fill="#fff" stroke="#5a5a5a" stroke-width="0.6"/>
<line x1="289.075" y1="380.8" x2="289.075" y2="383.8" stroke="#222" stroke-width="0.8"/>
<text x="292.77" y="389.6" font-size="6.5" fill="#474747" stroke="#474747" stroke-width="0.1" text-anchor="end" transform="rotate(-45 292.77 389.6)">pro-B</text>
<line x1="283.34999999999997" y1="307.4" x2="294.79999999999995" y2="307.4" stroke="#333" stroke-width="1.0"/>
<path d="M284.95,302.95V305.25M283.95,303.52L285.95,304.67M283.95,304.67L285.95,303.52" stroke="#222" stroke-width="0.62" fill="none"/>
<path d="M287.70,302.95V305.25M286.70,303.52L288.70,304.67M286.70,304.67L288.70,303.52" stroke="#222" stroke-width="0.62" fill="none"/>
<path d="M290.45,302.95V305.25M289.45,303.52L291.45,304.67M289.45,304.67L291.45,303.52" stroke="#222" stroke-width="0.62" fill="none"/>
<path d="M293.20,302.95V305.25M292.20,303.52L294.20,304.67M292.20,304.67L294.20,303.52" stroke="#222" stroke-width="0.62" fill="none"/>
<rect x="302.20" y="316.41" width="3.80" height="64.39" fill="#53226a" stroke="#3c1250" stroke-width="0.45"/>
<rect x="309.20" y="357.51" width="4.05" height="23.29" fill="#e0117f" stroke="#b80c60" stroke-width="0.45"/>
<line x1="304.1" y1="316.20799999999997" x2="304.1" y2="311.40000000000003" stroke="#444" stroke-width="0.6"/>
<line x1="302.8" y1="311.40000000000003" x2="305.40000000000003" y2="311.40000000000003" stroke="#444" stroke-width="0.6"/>
<circle cx="303.10" cy="310.60" r="1.2" fill="#fff" stroke="#5a5a5a" stroke-width="0.6"/>
<circle cx="305.05" cy="322.70" r="1.2" fill="#fff" stroke="#5a5a5a" stroke-width="0.6"/>
<circle cx="304.53" cy="316.57" r="1.2" fill="#fff" stroke="#5a5a5a" stroke-width="0.6"/>
<circle cx="304.27" cy="313.34" r="1.2" fill="#fff" stroke="#5a5a5a" stroke-width="0.6"/>
<circle cx="303.63" cy="315.65" r="1.2" fill="#fff" stroke="#5a5a5a" stroke-width="0.6"/>
<circle cx="304.11" cy="310.60" r="1.2" fill="#fff" stroke="#5a5a5a" stroke-width="0.6"/>
<circle cx="303.80" cy="316.76" r="1.2" fill="#fff" stroke="#5a5a5a" stroke-width="0.6"/>
<circle cx="305.01" cy="317.61" r="1.2" fill="#fff" stroke="#5a5a5a" stroke-width="0.6"/>
<circle cx="305.19" cy="315.36" r="1.2" fill="#fff" stroke="#5a5a5a" stroke-width="0.6"/>
<circle cx="304.83" cy="318.71" r="1.2" fill="#fff" stroke="#5a5a5a" stroke-width="0.6"/>
<circle cx="304.04" cy="315.60" r="1.2" fill="#fff" stroke="#5a5a5a" stroke-width="0.6"/>
<circle cx="303.42" cy="316.70" r="1.2" fill="#fff" stroke="#5a5a5a" stroke-width="0.6"/>
<circle cx="304.01" cy="314.39" r="1.2" fill="#fff" stroke="#5a5a5a" stroke-width="0.6"/>
<circle cx="304.03" cy="310.76" r="1.2" fill="#fff" stroke="#5a5a5a" stroke-width="0.6"/>
<line x1="311.225" y1="357.312" x2="311.225" y2="335.7" stroke="#444" stroke-width="0.6"/>
<line x1="309.925" y1="335.7" x2="312.52500000000003" y2="335.7" stroke="#444" stroke-width="0.6"/>
<circle cx="310.47" cy="334.90" r="1.2" fill="#fff" stroke="#5a5a5a" stroke-width="0.6"/>
<circle cx="311.40" cy="368.60" r="1.2" fill="#fff" stroke="#5a5a5a" stroke-width="0.6"/>
<circle cx="310.21" cy="348.28" r="1.2" fill="#fff" stroke="#5a5a5a" stroke-width="0.6"/>
<circle cx="310.63" cy="361.24" r="1.2" fill="#fff" stroke="#5a5a5a" stroke-width="0.6"/>
<circle cx="310.25" cy="348.58" r="1.2" fill="#fff" stroke="#5a5a5a" stroke-width="0.6"/>
<circle cx="310.21" cy="349.90" r="1.2" fill="#fff" stroke="#5a5a5a" stroke-width="0.6"/>
<circle cx="311.10" cy="359.54" r="1.2" fill="#fff" stroke="#5a5a5a" stroke-width="0.6"/>
<circle cx="310.49" cy="355.63" r="1.2" fill="#fff" stroke="#5a5a5a" stroke-width="0.6"/>
<circle cx="310.78" cy="348.15" r="1.2" fill="#fff" stroke="#5a5a5a" stroke-width="0.6"/>
<circle cx="310.54" cy="354.02" r="1.2" fill="#fff" stroke="#5a5a5a" stroke-width="0.6"/>
<circle cx="312.18" cy="336.86" r="1.2" fill="#fff" stroke="#5a5a5a" stroke-width="0.6"/>
<circle cx="311.63" cy="350.82" r="1.2" fill="#fff" stroke="#5a5a5a" stroke-width="0.6"/>
<circle cx="310.51" cy="364.35" r="1.2" fill="#fff" stroke="#5a5a5a" stroke-width="0.6"/>
<circle cx="310.52" cy="352.35" r="1.2" fill="#fff" stroke="#5a5a5a" stroke-width="0.6"/>
<circle cx="311.25" cy="358.41" r="1.2" fill="#fff" stroke="#5a5a5a" stroke-width="0.6"/>
<circle cx="311.82" cy="362.13" r="1.2" fill="#fff" stroke="#5a5a5a" stroke-width="0.6"/>
<circle cx="312.07" cy="360.67" r="1.2" fill="#fff" stroke="#5a5a5a" stroke-width="0.6"/>
<circle cx="312.27" cy="345.58" r="1.2" fill="#fff" stroke="#5a5a5a" stroke-width="0.6"/>
<line x1="307.725" y1="380.8" x2="307.725" y2="383.8" stroke="#222" stroke-width="0.8"/>
<text x="311.43" y="389.6" font-size="6.5" fill="#474747" stroke="#474747" stroke-width="0.1" text-anchor="end" transform="rotate(-45 311.43 389.6)">pre-BI</text>
<line x1="302.0" y1="307.4" x2="313.45" y2="307.4" stroke="#333" stroke-width="1.0"/>
<path d="M303.60,302.95V305.25M302.60,303.52L304.60,304.67M302.60,304.67L304.60,303.52" stroke="#222" stroke-width="0.62" fill="none"/>
<path d="M306.35,302.95V305.25M305.35,303.52L307.35,304.67M305.35,304.67L307.35,303.52" stroke="#222" stroke-width="0.62" fill="none"/>
<path d="M309.10,302.95V305.25M308.10,303.52L310.10,304.67M308.10,304.67L310.10,303.52" stroke="#222" stroke-width="0.62" fill="none"/>
<path d="M311.85,302.95V305.25M310.85,303.52L312.85,304.67M310.85,304.67L312.85,303.52" stroke="#222" stroke-width="0.62" fill="none"/>
<rect x="320.85" y="380.27" width="3.80" height="0.53" fill="#53226a" stroke="#3c1250" stroke-width="0.45"/>
<rect x="327.85" y="372.19" width="4.05" height="8.61" fill="#e0117f" stroke="#b80c60" stroke-width="0.45"/>
<line x1="322.75" y1="380.06600000000003" x2="322.75" y2="379.3" stroke="#444" stroke-width="0.6"/>
<line x1="321.45" y1="379.3" x2="324.05" y2="379.3" stroke="#444" stroke-width="0.6"/>
<circle cx="323.29" cy="378.50" r="1.2" fill="#fff" stroke="#5a5a5a" stroke-width="0.6"/>
<circle cx="321.73" cy="380.70" r="1.2" fill="#fff" stroke="#5a5a5a" stroke-width="0.6"/>
<circle cx="321.91" cy="379.33" r="1.2" fill="#fff" stroke="#5a5a5a" stroke-width="0.6"/>
<circle cx="322.69" cy="378.80" r="1.2" fill="#fff" stroke="#5a5a5a" stroke-width="0.6"/>
<circle cx="323.11" cy="380.70" r="1.2" fill="#fff" stroke="#5a5a5a" stroke-width="0.6"/>
<line x1="329.875" y1="371.992" x2="329.875" y2="365.3" stroke="#444" stroke-width="0.6"/>
<line x1="328.575" y1="365.3" x2="331.175" y2="365.3" stroke="#444" stroke-width="0.6"/>
<circle cx="330.33" cy="364.50" r="1.2" fill="#fff" stroke="#5a5a5a" stroke-width="0.6"/>
<circle cx="330.98" cy="375.30" r="1.2" fill="#fff" stroke="#5a5a5a" stroke-width="0.6"/>
<circle cx="330.80" cy="373.79" r="1.2" fill="#fff" stroke="#5a5a5a" stroke-width="0.6"/>
<circle cx="330.54" cy="373.49" r="1.2" fill="#fff" stroke="#5a5a5a" stroke-width="0.6"/>
<circle cx="330.29" cy="364.50" r="1.2" fill="#fff" stroke="#5a5a5a" stroke-width="0.6"/>
<circle cx="329.01" cy="371.97" r="1.2" fill="#fff" stroke="#5a5a5a" stroke-width="0.6"/>
<circle cx="330.79" cy="374.74" r="1.2" fill="#fff" stroke="#5a5a5a" stroke-width="0.6"/>
<circle cx="330.36" cy="373.08" r="1.2" fill="#fff" stroke="#5a5a5a" stroke-width="0.6"/>
<circle cx="330.82" cy="367.38" r="1.2" fill="#fff" stroke="#5a5a5a" stroke-width="0.6"/>
<circle cx="329.66" cy="369.56" r="1.2" fill="#fff" stroke="#5a5a5a" stroke-width="0.6"/>
<circle cx="329.98" cy="372.73" r="1.2" fill="#fff" stroke="#5a5a5a" stroke-width="0.6"/>
<circle cx="329.37" cy="372.53" r="1.2" fill="#fff" stroke="#5a5a5a" stroke-width="0.6"/>
<line x1="326.375" y1="380.8" x2="326.375" y2="383.8" stroke="#222" stroke-width="0.8"/>
<text x="330.07" y="389.6" font-size="6.5" fill="#474747" stroke="#474747" stroke-width="0.1" text-anchor="end" transform="rotate(-45 330.07 389.6)">pre-BII large</text>
<line x1="320.65" y1="307.4" x2="332.09999999999997" y2="307.4" stroke="#333" stroke-width="1.0"/>
<path d="M322.25,302.95V305.25M321.25,303.52L323.25,304.67M321.25,304.67L323.25,303.52" stroke="#222" stroke-width="0.62" fill="none"/>
<path d="M325.00,302.95V305.25M324.00,303.52L326.00,304.67M324.00,304.67L326.00,303.52" stroke="#222" stroke-width="0.62" fill="none"/>
<path d="M327.75,302.95V305.25M326.75,303.52L328.75,304.67M326.75,304.67L328.75,303.52" stroke="#222" stroke-width="0.62" fill="none"/>
<path d="M330.50,302.95V305.25M329.50,303.52L331.50,304.67M329.50,304.67L331.50,303.52" stroke="#222" stroke-width="0.62" fill="none"/>
<rect x="339.50" y="379.53" width="3.80" height="1.27" fill="#53226a" stroke="#3c1250" stroke-width="0.45"/>
<rect x="346.50" y="373.66" width="4.05" height="7.14" fill="#e0117f" stroke="#b80c60" stroke-width="0.45"/>
<line x1="341.4" y1="379.332" x2="341.4" y2="378.3" stroke="#444" stroke-width="0.6"/>
<line x1="340.09999999999997" y1="378.3" x2="342.7" y2="378.3" stroke="#444" stroke-width="0.6"/>
<circle cx="340.55" cy="377.50" r="1.2" fill="#fff" stroke="#5a5a5a" stroke-width="0.6"/>
<circle cx="342.29" cy="380.70" r="1.2" fill="#fff" stroke="#5a5a5a" stroke-width="0.6"/>
<circle cx="342.37" cy="379.02" r="1.2" fill="#fff" stroke="#5a5a5a" stroke-width="0.6"/>
<circle cx="342.39" cy="378.22" r="1.2" fill="#fff" stroke="#5a5a5a" stroke-width="0.6"/>
<circle cx="340.68" cy="377.61" r="1.2" fill="#fff" stroke="#5a5a5a" stroke-width="0.6"/>
<line x1="348.525" y1="373.46000000000004" x2="348.525" y2="361.3" stroke="#444" stroke-width="0.6"/>
<line x1="347.22499999999997" y1="361.3" x2="349.825" y2="361.3" stroke="#444" stroke-width="0.6"/>
<circle cx="348.82" cy="360.50" r="1.2" fill="#fff" stroke="#5a5a5a" stroke-width="0.6"/>
<circle cx="348.09" cy="376.60" r="1.2" fill="#fff" stroke="#5a5a5a" stroke-width="0.6"/>
<circle cx="347.91" cy="376.11" r="1.2" fill="#fff" stroke="#5a5a5a" stroke-width="0.6"/>
<circle cx="347.76" cy="376.60" r="1.2" fill="#fff" stroke="#5a5a5a" stroke-width="0.6"/>
<circle cx="349.56" cy="373.23" r="1.2" fill="#fff" stroke="#5a5a5a" stroke-width="0.6"/>
<circle cx="347.50" cy="374.05" r="1.2" fill="#fff" stroke="#5a5a5a" stroke-width="0.6"/>
<circle cx="348.42" cy="371.24" r="1.2" fill="#fff" stroke="#5a5a5a" stroke-width="0.6"/>
<circle cx="349.49" cy="376.55" r="1.2" fill="#fff" stroke="#5a5a5a" stroke-width="0.6"/>
<circle cx="348.60" cy="376.60" r="1.2" fill="#fff" stroke="#5a5a5a" stroke-width="0.6"/>
<circle cx="347.99" cy="375.50" r="1.2" fill="#fff" stroke="#5a5a5a" stroke-width="0.6"/>
<circle cx="347.90" cy="369.60" r="1.2" fill="#fff" stroke="#5a5a5a" stroke-width="0.6"/>
<circle cx="348.16" cy="376.60" r="1.2" fill="#fff" stroke="#5a5a5a" stroke-width="0.6"/>
<line x1="345.025" y1="380.8" x2="345.025" y2="383.8" stroke="#222" stroke-width="0.8"/>
<text x="348.72" y="389.6" font-size="6.5" fill="#474747" stroke="#474747" stroke-width="0.1" text-anchor="end" transform="rotate(-45 348.72 389.6)">pre-BII small</text>
<line x1="339.29999999999995" y1="307.4" x2="350.74999999999994" y2="307.4" stroke="#333" stroke-width="1.0"/>
<path d="M340.90,302.95V305.25M339.90,303.52L341.90,304.67M339.90,304.67L341.90,303.52" stroke="#222" stroke-width="0.62" fill="none"/>
<path d="M343.65,302.95V305.25M342.65,303.52L344.65,304.67M342.65,304.67L344.65,303.52" stroke="#222" stroke-width="0.62" fill="none"/>
<path d="M346.40,302.95V305.25M345.40,303.52L347.40,304.67M345.40,304.67L347.40,303.52" stroke="#222" stroke-width="0.62" fill="none"/>
<path d="M349.15,302.95V305.25M348.15,303.52L350.15,304.67M348.15,304.67L350.15,303.52" stroke="#222" stroke-width="0.62" fill="none"/>
<rect x="358.15" y="380.78" width="3.80" height="0.02" fill="#53226a" stroke="#3c1250" stroke-width="0.45"/>
<rect x="365.15" y="380.27" width="4.05" height="0.53" fill="#e0117f" stroke="#b80c60" stroke-width="0.45"/>
<line x1="360.05" y1="380.57980000000003" x2="360.05" y2="380.3" stroke="#444" stroke-width="0.6"/>
<line x1="358.75" y1="380.3" x2="361.35" y2="380.3" stroke="#444" stroke-width="0.6"/>
<circle cx="359.92" cy="379.50" r="1.2" fill="#fff" stroke="#5a5a5a" stroke-width="0.6"/>
<circle cx="359.61" cy="380.70" r="1.2" fill="#fff" stroke="#5a5a5a" stroke-width="0.6"/>
<circle cx="359.35" cy="380.70" r="1.2" fill="#fff" stroke="#5a5a5a" stroke-width="0.6"/>
<circle cx="361.15" cy="380.52" r="1.2" fill="#fff" stroke="#5a5a5a" stroke-width="0.6"/>
<line x1="367.175" y1="380.06600000000003" x2="367.175" y2="378.8" stroke="#444" stroke-width="0.6"/>
<line x1="365.875" y1="378.8" x2="368.475" y2="378.8" stroke="#444" stroke-width="0.6"/>
<circle cx="367.28" cy="378.00" r="1.2" fill="#fff" stroke="#5a5a5a" stroke-width="0.6"/>
<circle cx="368.25" cy="380.50" r="1.2" fill="#fff" stroke="#5a5a5a" stroke-width="0.6"/>
<circle cx="366.80" cy="378.36" r="1.2" fill="#fff" stroke="#5a5a5a" stroke-width="0.6"/>
<circle cx="366.12" cy="378.27" r="1.2" fill="#fff" stroke="#5a5a5a" stroke-width="0.6"/>
<circle cx="367.30" cy="378.94" r="1.2" fill="#fff" stroke="#5a5a5a" stroke-width="0.6"/>
<line x1="363.675" y1="380.8" x2="363.675" y2="383.8" stroke="#222" stroke-width="0.8"/>
<text x="367.38" y="389.6" font-size="6.5" fill="#474747" stroke="#474747" stroke-width="0.1" text-anchor="end" transform="rotate(-45 367.38 389.6)">immature</text>
<line x1="357.95" y1="307.4" x2="369.4" y2="307.4" stroke="#333" stroke-width="1.0"/>
<path d="M359.55,302.95V305.25M358.55,303.52L360.55,304.67M358.55,304.67L360.55,303.52" stroke="#222" stroke-width="0.62" fill="none"/>
<path d="M362.30,302.95V305.25M361.30,303.52L363.30,304.67M361.30,304.67L363.30,303.52" stroke="#222" stroke-width="0.62" fill="none"/>
<path d="M365.05,302.95V305.25M364.05,303.52L366.05,304.67M364.05,304.67L366.05,303.52" stroke="#222" stroke-width="0.62" fill="none"/>
<path d="M367.80,302.95V305.25M366.80,303.52L368.80,304.67M366.80,304.67L368.80,303.52" stroke="#222" stroke-width="0.62" fill="none"/>
<text x="418" y="292.3" font-size="7.0" fill="#3a3a3a" stroke="#3a3a3a" stroke-width="0.1" text-anchor="middle" textLength="20.1" lengthAdjust="spacingAndGlyphs">Day 14</text>
<text x="452.8" y="292.3" font-size="7.0" fill="#3a3a3a" stroke="#3a3a3a" stroke-width="0.1" text-anchor="middle" textLength="19.6" lengthAdjust="spacingAndGlyphs">Day 21</text>
<text x="487.9" y="292.3" font-size="7.0" fill="#3a3a3a" stroke="#3a3a3a" stroke-width="0.1" text-anchor="middle" textLength="19.6" lengthAdjust="spacingAndGlyphs">Day 28</text>
<text x="391.1" y="301.6" font-size="7.0" fill="#3a3a3a" stroke="#3a3a3a" stroke-width="0.1" textLength="12.1" lengthAdjust="spacingAndGlyphs">IL-7:</text>
<circle cx="410.70" cy="299.20" r="3.0" fill="#fff" stroke="#1a1a1a" stroke-width="0.95"/>
<line x1="409.3" y1="299.2" x2="412.09999999999997" y2="299.2" stroke="#222" stroke-width="0.8"/>
<line x1="410.7" y1="297.8" x2="410.7" y2="300.6" stroke="#222" stroke-width="0.8"/>
<circle cx="426.50" cy="299.20" r="3.0" fill="#fff" stroke="#1a1a1a" stroke-width="0.95"/>
<line x1="425.1" y1="299.2" x2="427.9" y2="299.2" stroke="#222" stroke-width="0.8"/>
<circle cx="445.60" cy="299.20" r="3.0" fill="#fff" stroke="#1a1a1a" stroke-width="0.95"/>
<line x1="444.20000000000005" y1="299.2" x2="447.0" y2="299.2" stroke="#222" stroke-width="0.8"/>
<line x1="445.6" y1="297.8" x2="445.6" y2="300.6" stroke="#222" stroke-width="0.8"/>
<circle cx="461.00" cy="299.20" r="3.0" fill="#fff" stroke="#1a1a1a" stroke-width="0.95"/>
<line x1="459.6" y1="299.2" x2="462.4" y2="299.2" stroke="#222" stroke-width="0.8"/>
<circle cx="480.20" cy="299.20" r="3.0" fill="#fff" stroke="#1a1a1a" stroke-width="0.95"/>
<line x1="478.8" y1="299.2" x2="481.59999999999997" y2="299.2" stroke="#222" stroke-width="0.8"/>
<line x1="480.2" y1="297.8" x2="480.2" y2="300.6" stroke="#222" stroke-width="0.8"/>
<circle cx="495.50" cy="299.20" r="3.0" fill="#fff" stroke="#1a1a1a" stroke-width="0.95"/>
<line x1="494.1" y1="299.2" x2="496.9" y2="299.2" stroke="#222" stroke-width="0.8"/>
<rect x="404.20" y="306.10" width="12.70" height="29.20" fill="#a45fb5"/>
<rect x="404.20" y="335.30" width="12.70" height="40.70" fill="#47aee0"/>
<rect x="404.20" y="376.00" width="12.70" height="4.70" fill="#b80c0e"/>
<rect x="420.00" y="306.10" width="13.10" height="34.50" fill="#a45fb5"/>
<rect x="420.00" y="340.60" width="13.10" height="38.00" fill="#47aee0"/>
<rect x="420.00" y="378.60" width="13.10" height="2.10" fill="#b80c0e"/>
<rect x="438.70" y="306.10" width="13.10" height="6.20" fill="#a45fb5"/>
<rect x="438.70" y="312.30" width="13.10" height="13.40" fill="#47aee0"/>
<rect x="438.70" y="325.70" width="13.10" height="55.00" fill="#b80c0e"/>
<rect x="455.00" y="306.10" width="13.00" height="14.40" fill="#a45fb5"/>
<rect x="455.00" y="320.50" width="13.00" height="40.80" fill="#47aee0"/>
<rect x="455.00" y="361.30" width="13.00" height="15.70" fill="#b80c0e"/>
<rect x="455.00" y="377.00" width="13.00" height="3.70" fill="#b35a14"/>
<rect x="473.80" y="306.10" width="13.00" height="0.50" fill="#a45fb5"/>
<rect x="473.80" y="306.60" width="13.00" height="4.40" fill="#47aee0"/>
<rect x="473.80" y="311.00" width="13.00" height="69.70" fill="#b80c0e"/>
<rect x="489.60" y="306.10" width="13.40" height="1.90" fill="#a45fb5"/>
<rect x="489.60" y="308.00" width="13.40" height="20.80" fill="#47aee0"/>
<rect x="489.60" y="328.80" width="13.40" height="28.00" fill="#b80c0e"/>
<rect x="489.60" y="356.80" width="13.40" height="11.70" fill="#b35a14"/>
<rect x="489.60" y="368.50" width="13.40" height="10.30" fill="#f5841a"/>
<rect x="489.60" y="378.80" width="13.40" height="1.90" fill="#3ca43a"/>
<rect x="398.70" y="388.20" width="4.00" height="4.20" fill="#a45fb5"/>
<rect x="424.40" y="388.20" width="4.00" height="4.20" fill="#b80c0e"/>
<rect x="467.90" y="388.20" width="4.00" height="4.20" fill="#f5841a"/>
<rect x="398.70" y="397.40" width="4.00" height="4.20" fill="#47aee0"/>
<rect x="424.40" y="397.40" width="4.00" height="4.20" fill="#b35a14"/>
<rect x="467.90" y="397.40" width="4.00" height="4.20" fill="#3ca43a"/>
<text x="406.3" y="392.6" font-size="6.5" fill="#444" stroke="#444" stroke-width="0.06" textLength="10.7" lengthAdjust="spacingAndGlyphs">CLP</text>
<text x="432" y="392.6" font-size="6.5" fill="#444" stroke="#444" stroke-width="0.06" textLength="16.3" lengthAdjust="spacingAndGlyphs">pre-BI</text>
<text x="475.8" y="392.6" font-size="6.5" fill="#444" stroke="#444" stroke-width="0.06" textLength="31.7" lengthAdjust="spacingAndGlyphs">pre-BII small</text>
<text x="406.3" y="401.9" font-size="6.5" fill="#444" stroke="#444" stroke-width="0.06" textLength="15" lengthAdjust="spacingAndGlyphs">pro-B</text>
<text x="432" y="401.9" font-size="6.5" fill="#444" stroke="#444" stroke-width="0.06" textLength="32.3" lengthAdjust="spacingAndGlyphs">pre-BII large</text>
<text x="475.8" y="401.9" font-size="6.5" fill="#444" stroke="#444" stroke-width="0.06" textLength="25" lengthAdjust="spacingAndGlyphs">immature</text>
</svg></body></html>
